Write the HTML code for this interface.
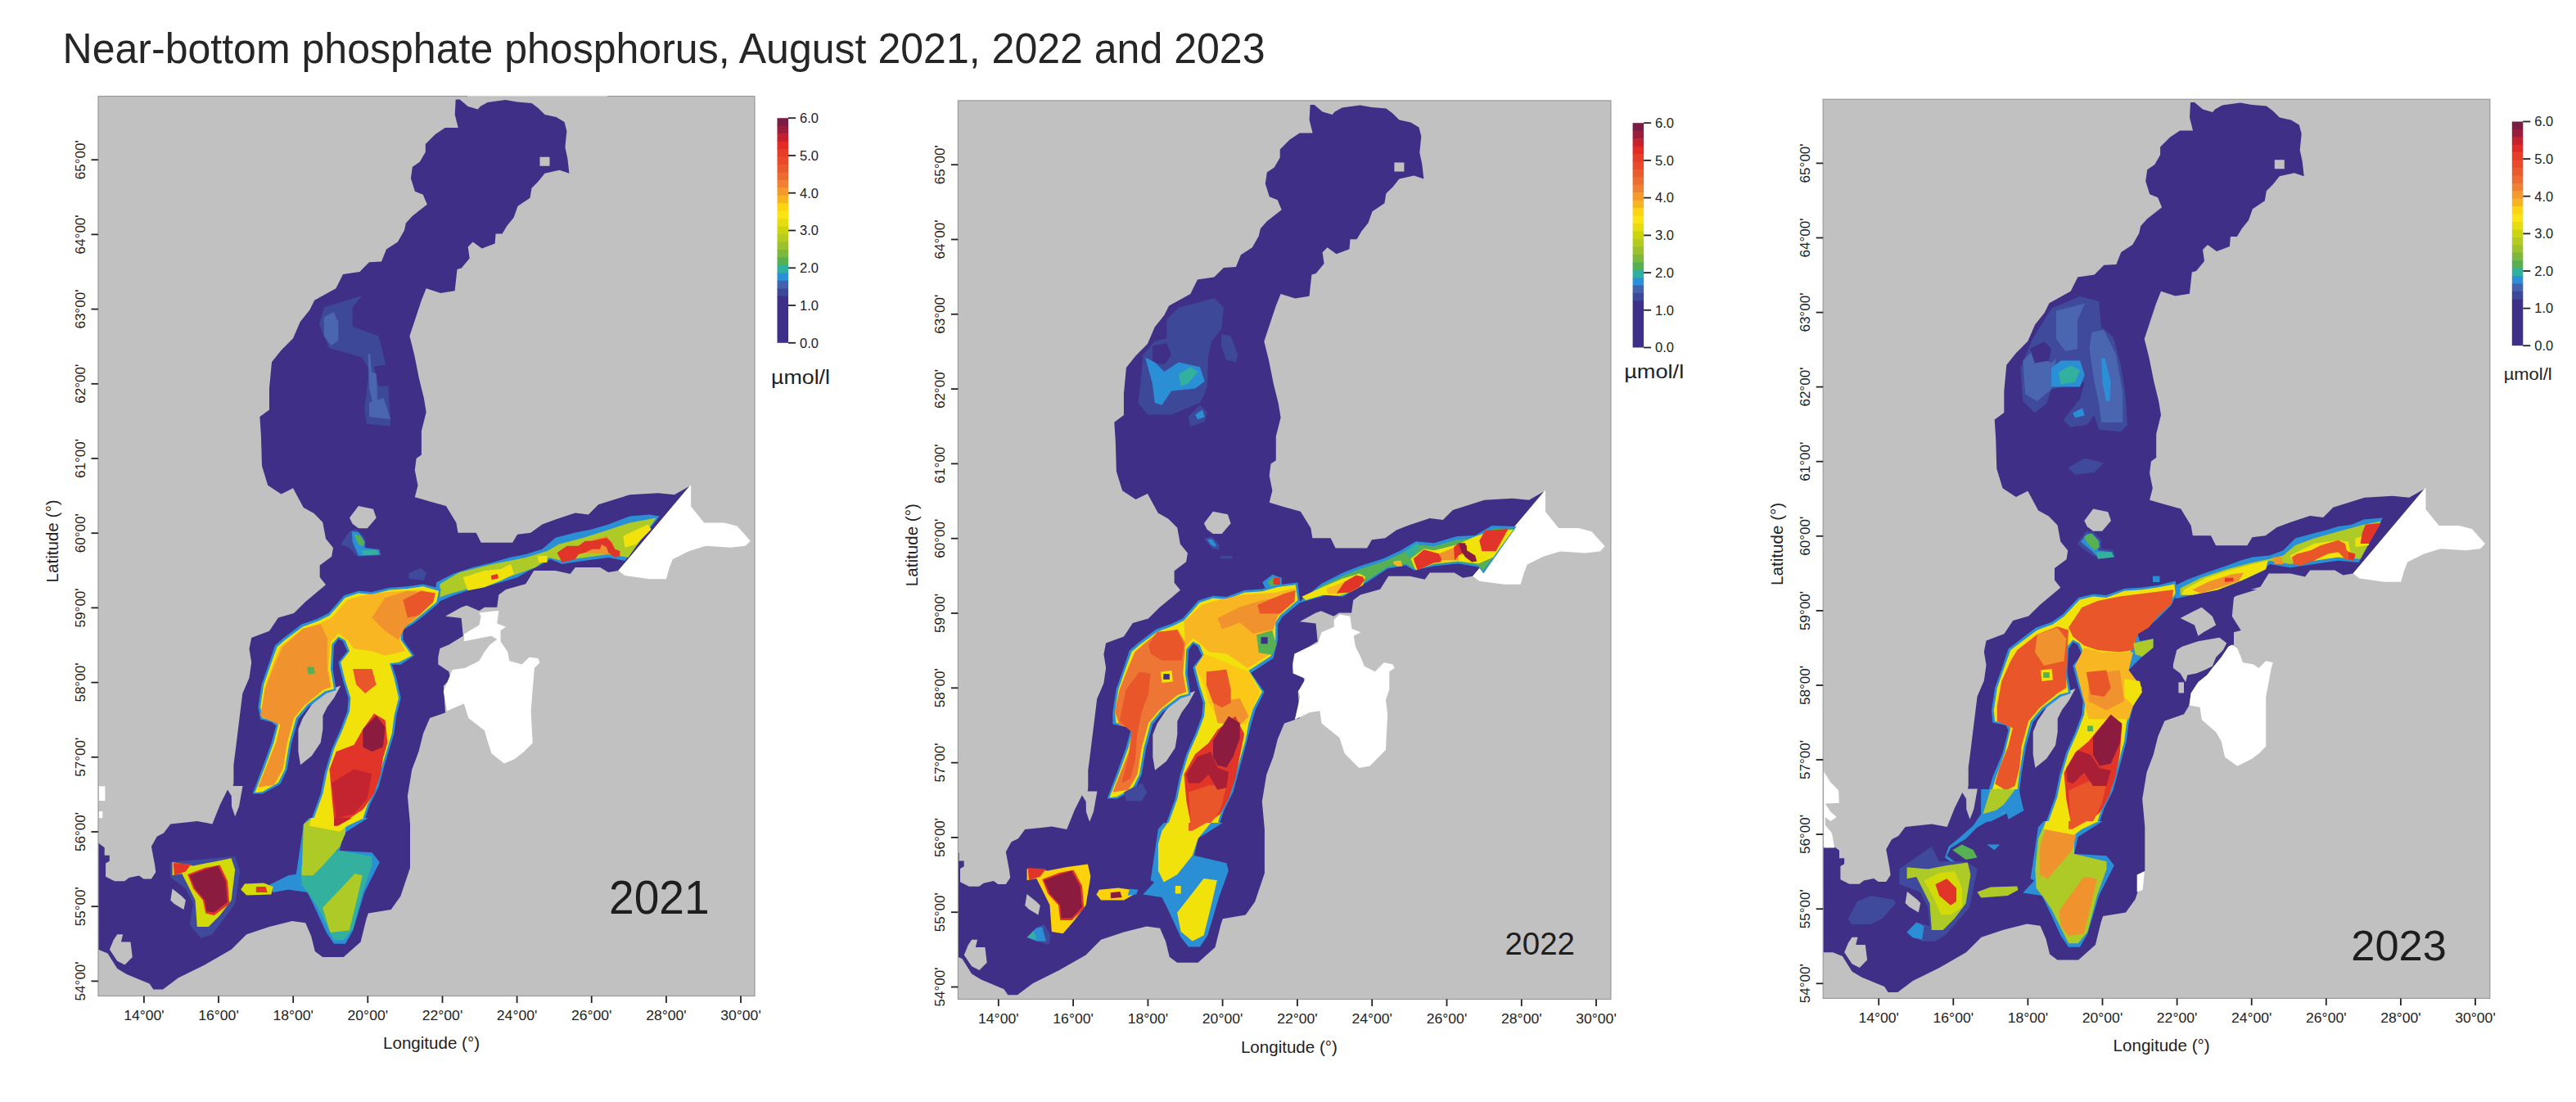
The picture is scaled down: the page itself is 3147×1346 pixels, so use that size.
<!DOCTYPE html>
<html><head><meta charset="utf-8"><style>
html,body{margin:0;padding:0;background:#fff;width:3147px;height:1346px;overflow:hidden}
svg text{font-family:"Liberation Sans",sans-serif}
</style></head><body>
<svg width="3147" height="1346" viewBox="0 0 3147 1346" style="position:absolute;left:0;top:0">
<defs>
<path id="sea" d="M556.7,121.4 561.7,121.4 571.7,130 583.7,133.5 586.7,130 595.7,125 617.6,122 631.6,124.4 649.5,126 657.5,132 665.5,140 679.5,143 689.5,149 692.4,160 690.4,180 693.4,193.8 695.4,211.8 683.5,207.8 665.5,211.8 657.5,221.8 649.5,229.7 647.5,241.7 632.6,251.7 627.6,265.7 619.6,275.6 613.6,285.6 605.6,285.6 604.6,297.6 588.7,303.6 577.7,295.6 571.7,301.6 573.7,315.5 563.7,327.5 558.5,329 555.6,355.2 538.2,358 520.7,352.3 514.9,366.8 509.1,384.2 500.4,410.4 506.2,433.6 512,462.6 517.8,485.9 520.7,503.3 514.9,526.5 514.9,555.6 508.6,560 506.8,574.5 510.5,592.7 506.8,607.2 525,612.6 544.9,618.1 557.4,638.5 559.5,650.7 581.7,650.7 587.7,662.8 626.1,662.8 632.1,652.7 648.3,650.7 662.4,640.6 678.6,634.5 702.8,626.4 718.9,628.4 731,616.3 769.4,604.2 803.7,602.2 823.9,604.2 842,594 755.3,697.1 743.2,699.1 733,693 702.8,693 696.7,701.1 678.6,697.1 652.3,697.1 642.2,713.2 618.1,720 609.3,726.5 607.2,741.8 591.9,741.8 585.4,746.1 570.1,739.6 563.6,741.8 544,752.7 563.6,754.9 565.8,776.7 548.3,787.6 537.4,791.9 535.3,802.8 535.3,811.5 548.3,820.2 550.5,829 541.8,837.7 544,870.4 525.1,877 517,896.1 511.5,917.9 503.3,939.7 497.9,972.3 501,1006.5 501,1059.9 489.3,1094.7 477.7,1111 449.9,1115.6 447.5,1122.6 440.6,1150.5 419.7,1169.1 394.1,1169.1 384.8,1162.1 380.2,1143.5 373.2,1127.2 356.9,1124.9 329,1131.9 301.2,1141.2 282.6,1159.8 250.1,1178.4 217.6,1194.6 199,1208.6 187.4,1208.6 182.7,1201.6 154.8,1190 143.2,1183 131.6,1164.4 120,1159.8 100,1159.8 100,1031 120.6,1029.9 127.7,1035.3 127.7,1044.8 133.8,1044.8 133.8,1051.7 129.1,1054.4 129.1,1070.7 140,1076.2 152.2,1076.2 157.7,1072.1 169.9,1069.4 175.4,1073.4 184.9,1073.4 190.3,1065.3 189,1055.7 184.9,1034 191.7,1021.7 200,1017.6 208.3,1006.5 240.8,1003 259.4,1006.5 268.7,983.2 278,964.6 282.7,972.3 285.4,956 285.4,934.2 288.2,912.4 290.9,890.6 293.6,868.8 296.3,847 304.5,828 307.2,809 304.5,792.6 307.2,779 329,770.8 339.9,754.5 359,749 372.6,735.4 389,721.8 398,714.2 390.7,705.1 390.7,690.6 405.2,679.7 407,668.9 398,658 394.3,638 383.5,627.1 370.8,619.9 358,596.3 343.5,603.5 327.2,592.7 320,569.1 318.9,532.4 317.4,509.1 329,500.4 329,474.3 332,442.3 343.6,427.8 358,413.3 366.8,393 378.4,378.4 384.2,366.8 410.4,352.3 419,334.9 439.4,332 451,320.3 466,319.5 472,304.6 485.9,295.6 493.9,281.6 495.9,272.6 503.9,263.7 521.8,249.7 516.8,237.7 506.9,233.7 501.9,217.8 503.9,203.8 512.8,197.8 519.8,185.8 519.8,175.9 531.8,163.9 543.8,155.9 559.7,155.9 555.7,140Z"/>
</defs>
<text x="76.5" y="76.5" font-family="Liberation Sans, sans-serif" font-size="52" fill="#262626" textLength="1469" lengthAdjust="spacingAndGlyphs">Near-bottom phosphate phosphorus, August 2021, 2022 and 2023</text>
<rect x="120" y="117.5" width="802" height="1099.0" fill="#c1c1c1"/>
<clipPath id="clip0"><rect x="120" y="117.5" width="802" height="1099.0"/></clipPath>
<g clip-path="url(#clip0)">
<g transform="translate(0,0)">
<use href="#sea" fill="#3f2f87"/>
<polygon points="427,632.6 437.9,618.1 456,621.7 459.7,632.6 448.8,645.3 437.9,645.3 430.6,639.8" fill="#c1c1c1"/>
<polygon points="416.2,837.5 408,852.5 399.8,863.4 394.4,874.3 394.4,890.6 391.7,907 380.8,923.3 367.1,934.2 364.4,917.9 364.4,890.6 369.9,877 380.8,860.7 394.4,847 405.3,841.6" fill="#c1c1c1"/>
<polygon points="282.6,960 296.5,960 292,985 287.2,997.2 283,985" fill="#c1c1c1"/>
<polygon points="210.6,1085.4 222.2,1094.7 226.9,1099.4 224.5,1111 212.9,1104 208.3,1099.4" fill="#c1c1c1"/>
<polygon points="143.2,1141.2 150.2,1141.2 147.9,1150.5 159.5,1150.5 161.8,1169.1 152.5,1178.4 143.2,1173.7 133.9,1159.8 138.6,1148.2" fill="#c1c1c1"/>
<polygon points="659.5,191.8 671.5,191.8 671.5,202.8 659.5,202.8" fill="#c1c1c1"/>
<polygon points="844.1,592.1 844.1,618.4 860.2,638.5 884.5,638.5 900.6,642.6 916.7,660.7 910.7,666.8 892.5,668.8 862.3,666.8 842.1,672.9 821.9,683 817.9,693 813.8,707.2 793.6,707.2 763.3,703.1 755.3,697.1" fill="#fff"/>
</g>
<polygon points="395.8,375.5 442.3,361.0 430.7,375.5 430.7,398.8 462.6,410.4 471.4,445.2 456.8,448.1 462.6,471.4 474.3,471.4 477.2,520.7 448.1,517.8 445.2,500.4 451.0,451.0 442.3,436.5 401.7,424.9 390.0,395.8" fill="#3e4898"/>
<polygon points="395.8,387.1 407.5,381.3 413.3,392.9 413.3,416.2 404.6,422.0 395.8,410.4" fill="#4a66b0"/>
<polygon points="451.0,491.7 468.5,485.9 477.2,512.0 451.0,509.1" fill="#4a66b0"/>
<polygon points="449.6,432.2 452.5,432.2 453.9,453.9 459.7,456.8 461.2,488.8 455.4,491.7 451.0,474.3" fill="#4a66b0"/>
<polygon points="416.1,665.2 427.0,648.9 434.3,646.2 445.1,656.2 447.0,668.9 463.3,670.7 466.0,677.9 436.1,679.7 427.0,668.9" fill="#3f4a9c"/>
<polygon points="429.7,648.9 437.9,649.8 446.0,661.6 445.1,668.9 463.3,671.6 464.2,677.9 437.9,678.8 430.6,661.6" fill="#2b8fd6"/>
<polygon points="432.4,652.5 439.7,654.3 445.1,661.6 443.3,667.0 437.9,665.2" fill="#57b153"/>
<polygon points="441.5,672.5 459.7,671.6 463.3,677.0 443.3,677.9" fill="#34b09e"/>
<polygon points="499.6,699.7 514.1,694.3 521.3,699.7 517.7,708.8 499.6,707.0" fill="#3f4a9c"/>
<polygon points="533.2,711.2 553.4,701.1 577.6,693.0 601.9,687.0 622.0,680.9 642.2,676.9 662.4,670.8 678.6,656.7 702.8,650.6 723.0,646.6 743.2,640.6 769.4,630.5 793.6,628.4 805.7,630.5 763.3,685.0 743.2,680.9 712.9,685.0 686.6,689.0 672.5,682.9 662.4,689.0 646.3,697.1 632.1,705.2 611.9,711.2 591.8,717.3 571.6,721.3 553.4,727.4 539.3,733.4 529.2,739.5" fill="#2b8fd6"/>
<polygon points="537.3,713.2 561.5,699.1 601.9,689.0 642.2,680.9 668.5,672.9 682.6,664.8 712.9,656.7 739.1,648.6 769.4,638.5 801.7,632.5 767.4,680.9 743.2,676.9 714.9,680.9 686.6,685.0 670.5,680.9 654.3,693.0 632.1,701.1 601.9,711.2 571.6,719.3 549.4,725.3 537.3,729.4" fill="#adca27"/>
<polygon points="565.5,705.2 591.8,697.1 611.9,695.1 624.1,689.0 628.1,701.1 611.9,709.2 591.8,717.3 571.6,721.3" fill="#f2e20c"/>
<polygon points="656.4,678.9 668.5,678.9 668.5,687.0 658.4,687.0" fill="#f2e20c"/>
<polygon points="761.3,654.7 791.6,640.6 795.6,646.6 777.5,664.8 763.3,668.8" fill="#f2e20c"/>
<polygon points="710.9,662.8 741.1,654.7 749.2,664.8 743.2,676.9 714.9,674.9" fill="#f0922e"/>
<polygon points="680.6,674.9 692.7,666.8 706.8,666.8 714.9,660.7 723.0,660.7 741.1,656.7 747.2,662.8 751.2,670.8 757.3,672.9 757.3,678.9 751.2,680.9 743.2,674.9 741.1,668.8 735.1,664.8 733.1,670.8 723.0,670.8 714.9,674.9 706.8,676.9 702.8,682.9 686.6,687.0" fill="#e2352a"/>
<polygon points="599.8,703.1 607.9,701.1 608.9,706.2 600.8,708.2" fill="#e2352a"/>
<polygon points="308.6,969.6 320.8,936.9 331.7,907.0 337.2,886.5 331.7,881.9 318.1,878.4 315.4,863.4 319.5,836.2 329.0,808.9 335.8,788.5 346.7,779.0 368.5,762.6 387.6,755.8 401.2,749.0 420.3,727.2 438.0,721.8 454.3,723.1 476.1,717.7 497.9,716.3 516.9,713.6 538.7,719.1 536.0,736.8 519.7,750.4 506.0,761.3 492.4,769.4 492.4,781.7 506.0,800.8 489.7,811.7 478.8,811.7 484.2,828.0 489.7,852.5 484.2,874.3 481.5,896.1 470.6,931.5 462.5,961.4 451.6,983.2 446.1,999.6 380.8,999.6 391.7,969.6 397.1,942.4 405.3,915.1 416.2,890.6 424.3,868.8 425.7,852.5 418.9,830.7 413.4,808.9 424.3,795.3 418.9,783.1 413.4,780.3 408.0,788.5 406.6,817.1 410.7,843.0 398.5,847.1 376.7,863.4 364.4,878.4 356.3,907.0 350.8,939.7 342.6,957.4 320.8,969.6" fill="#2b8fd6"/>
<polygon points="311.3,968.2 323.6,936.9 334.5,907.0 339.9,885.2 334.5,879.7 320.8,877.0 318.1,863.4 322.2,836.2 331.7,808.9 338.6,789.9 348.1,781.7 369.9,765.4 388.9,758.6 402.5,751.7 421.6,730.0 438.0,724.5 454.3,725.9 476.1,720.4 497.9,719.1 516.9,716.3 536.0,721.8 533.3,735.4 516.9,749.0 503.3,759.9 489.7,768.1 489.7,781.7 503.3,800.8 487.0,808.9 476.1,810.3 481.5,828.0 487.0,852.5 481.5,874.3 478.8,896.1 467.9,931.5 459.7,961.4 448.8,983.2 443.4,999.6 383.5,999.6 394.4,969.6 399.8,942.4 408.0,915.1 418.9,890.6 427.1,868.8 428.4,852.5 421.6,830.7 416.2,808.9 427.1,795.3 421.6,781.7 413.4,777.6 405.3,787.1 403.9,817.1 408.0,841.6 397.1,844.3 375.3,860.7 361.7,877.0 353.5,907.0 348.1,939.7 339.9,956.0 320.8,966.9" fill="#f2e20c"/>
<polygon points="315.4,961.4 326.3,934.2 337.2,907.0 342.6,885.2 326.3,878.4 320.8,863.4 324.9,836.2 334.5,808.9 342.6,789.9 369.9,768.1 391.7,761.3 405.3,754.5 424.3,732.7 443.4,727.2 473.4,723.1 514.2,720.4 531.9,724.5 529.2,735.4 511.5,751.7 495.1,765.4 487.0,779.0 495.1,795.3 470.6,800.8 454.3,795.3 432.5,792.6 424.3,781.7 413.4,773.5 403.9,784.4 401.2,817.1 405.3,838.9 394.4,843.0 372.6,860.7 359.0,877.0 350.8,907.0 345.4,939.7 334.5,958.7" fill="#f8b622"/>
<polygon points="318.1,874.3 323.6,841.6 334.5,814.4 345.4,789.9 369.9,768.1 391.7,762.6 399.8,779.0 399.8,817.1 403.9,838.9 394.4,843.0 372.6,860.7 359.0,877.0 350.8,907.0 345.4,939.7 334.5,958.7 315.4,961.4 326.3,934.2 337.2,907.0 342.6,885.2 326.3,878.4" fill="#f0922e"/>
<polygon points="454.3,754.5 470.6,730.0 497.9,721.8 530.5,724.5 525.1,738.1 508.8,754.5 495.1,765.4 487.0,781.7 470.6,770.8" fill="#f0922e"/>
<polygon points="492.4,732.7 514.2,721.8 531.9,724.5 529.2,735.4 511.5,751.7 497.9,754.5" fill="#e8562a"/>
<polygon points="375.3,814.4 383.5,814.4 384.8,822.5 376.7,823.9" fill="#57b153"/>
<polygon points="431.1,817.1 454.3,817.1 459.7,836.2 446.1,847.1 435.2,836.2" fill="#e8562a"/>
<polygon points="402.5,939.7 410.7,917.9 432.5,909.7 443.4,890.6 457.0,871.6 470.6,879.7 473.4,907.0 467.9,926.0 465.2,945.1 457.0,969.6 443.4,988.7 427.1,999.6 408.0,999.6 405.3,972.3" fill="#e2352a"/>
<polygon points="405.3,956.0 432.5,939.7 454.3,945.1 448.8,975.1 432.5,994.1 410.7,999.6" fill="#c42330"/>
<polygon points="443.4,890.6 459.7,874.3 470.6,887.9 467.9,912.4 454.3,917.9 443.4,912.4" fill="#8c1b40"/>
<polygon points="208.3,1052.9 287.2,1045.9 293.1,1064.5 287.2,1104.0 259.4,1141.2 245.4,1145.8 231.5,1129.6 236.1,1104.0 226.9,1085.4 208.3,1071.5" fill="#3f4a9c"/>
<polygon points="210.6,1052.9 236.1,1057.6 259.4,1052.9 282.6,1048.3 287.2,1062.2 282.6,1099.4 268.7,1118.0 254.7,1131.9 240.8,1131.9 238.5,1099.4 229.2,1080.8 222.2,1066.9 210.6,1069.2" fill="#d2da08"/>
<polygon points="229.2,1068.0 250.1,1059.9 268.7,1056.4 278.0,1076.1 280.3,1104.0 261.7,1118.0 251.2,1115.6 247.8,1099.4 236.1,1085.4" fill="#e2352a"/>
<polygon points="231.5,1069.2 250.1,1062.2 266.3,1057.6 275.6,1076.1 278.0,1101.7 261.7,1114.5 252.4,1113.3 250.1,1099.4 238.5,1085.4" fill="#8c1b40"/>
<polygon points="211.8,1054.1 233.8,1055.2 226.9,1064.5 212.9,1069.2" fill="#e2352a"/>
<polygon points="329.1,1080.8 352.3,1069.2 366.2,1066.9 368.5,1085.4 352.3,1086.6 333.7,1090.1" fill="#2b8fd6"/>
<polygon points="294.2,1086.6 298.9,1079.6 322.1,1078.5 333.7,1083.1 331.4,1092.4 301.2,1093.6" fill="#d2da08"/>
<polygon points="312.8,1083.1 324.4,1083.1 326.7,1090.1 312.8,1090.1" fill="#e2352a"/>
<polygon points="361.6,1069.2 370.9,1006.5 377.8,999.0 449.8,999.0 419.7,1018.1 415.0,1039.0 454.5,1041.3 463.8,1052.9 445.2,1090.1 431.3,1136.5 422.0,1152.8 408.0,1152.8 398.7,1138.9 382.5,1104.0 375.5,1090.1 352.3,1086.6 366.2,1071.5" fill="#2b8fd6"/>
<polygon points="367.4,1057.6 394.1,1043.6 415.0,1039.0 454.5,1045.9 454.5,1057.6 442.9,1090.1 431.3,1134.2 419.7,1148.2 408.0,1148.2 401.1,1134.2 387.1,1106.3 377.8,1092.4 368.5,1080.8" fill="#34b09e"/>
<polygon points="370.9,1006.5 380.2,999.5 422.0,1006.5 422.0,1018.1 415.0,1034.3 394.1,1057.6 382.5,1069.2 368.5,1069.2" fill="#adca27"/>
<polygon points="394.1,1108.7 433.6,1066.9 442.9,1069.2 433.6,1108.7 426.6,1136.5 403.4,1138.9" fill="#adca27"/>
<polygon points="380.2,999.0 445.2,999.0 424.3,1008.8 415.0,1015.7 377.8,1008.8" fill="#f2e20c"/>
<polygon points="408.0,999.0 430.1,999.0 412.7,1008.8 408.0,1008.8" fill="#c42330"/>
<polygon points="585.4,748.3 609.3,746.1 607.2,761.4 618.1,765.8 611.5,770.1 611.5,783.2 620.2,796.3 622.4,807.2 637.7,811.5 646.4,802.8 657.3,803.9 659.5,809.3 652.9,815.9 650.7,842 648.6,868.2 650.7,907.4 639.9,918.3 629,927 615.9,932.5 600.6,920.5 596.3,907.4 591.9,892.2 572.3,876.9 566.9,859.5 546.1,868.2 541.8,844.2 552.7,818.1 567.9,815.9 585.4,807.2 591.9,796.3 598.4,787.6 607.2,781 600.6,776.7 589.7,778.8 566.9,783.2 566.9,774.5 585.4,763.6 587.6,752.7" fill="#fff"/>
<polygon points="120.6,960.4 128.4,960.4 128.4,978.1 120.6,978.1" fill="#fff"/>
<polygon points="120.6,991 125.3,991 125.3,999.2 120.6,999.2" fill="#fff"/>
</g>
<rect x="120" y="117.5" width="802" height="1099.0" fill="none" stroke="#9a9a9a" stroke-width="1.2"/>
<rect x="949.5" y="144.20" width="13.5" height="10.06" fill="#7a1c44"/>
<rect x="949.5" y="153.66" width="13.5" height="10.06" fill="#9a1e3c"/>
<rect x="949.5" y="163.11" width="13.5" height="10.06" fill="#c4202e"/>
<rect x="949.5" y="172.57" width="13.5" height="10.06" fill="#e42a24"/>
<rect x="949.5" y="182.03" width="13.5" height="10.06" fill="#e63c28"/>
<rect x="949.5" y="191.48" width="13.5" height="10.06" fill="#e84a2a"/>
<rect x="949.5" y="200.94" width="13.5" height="10.06" fill="#e95a2c"/>
<rect x="949.5" y="210.40" width="13.5" height="10.06" fill="#ed6c32"/>
<rect x="949.5" y="219.85" width="13.5" height="10.06" fill="#f08034"/>
<rect x="949.5" y="229.31" width="13.5" height="10.06" fill="#f39a2c"/>
<rect x="949.5" y="238.77" width="13.5" height="10.06" fill="#f8b41e"/>
<rect x="949.5" y="248.22" width="13.5" height="10.06" fill="#fcd412"/>
<rect x="949.5" y="257.68" width="13.5" height="10.06" fill="#fae416"/>
<rect x="949.5" y="267.13" width="13.5" height="10.06" fill="#e6dc12"/>
<rect x="949.5" y="276.59" width="13.5" height="10.06" fill="#ccd40e"/>
<rect x="949.5" y="286.05" width="13.5" height="10.06" fill="#b4cc22"/>
<rect x="949.5" y="295.50" width="13.5" height="10.06" fill="#9cc02e"/>
<rect x="949.5" y="304.96" width="13.5" height="10.06" fill="#7cb83e"/>
<rect x="949.5" y="314.42" width="13.5" height="10.06" fill="#56b050"/>
<rect x="949.5" y="323.87" width="13.5" height="10.06" fill="#30b0a0"/>
<rect x="949.5" y="333.33" width="13.5" height="10.06" fill="#2a90d8"/>
<rect x="949.5" y="342.79" width="13.5" height="10.06" fill="#4262b0"/>
<rect x="949.5" y="352.24" width="13.5" height="10.06" fill="#3c4898"/>
<rect x="949.5" y="361.70" width="13.5" height="57.10" fill="#3e2f88"/>
<line x1="963.0" y1="144.2" x2="972.0" y2="144.2" stroke="#222" stroke-width="1.8"/>
<text x="977.0" y="150.0" font-family="Liberation Sans, sans-serif" font-size="16.5" fill="#222">6.0</text>
<line x1="963.0" y1="190.0" x2="972.0" y2="190.0" stroke="#222" stroke-width="1.8"/>
<text x="977.0" y="195.8" font-family="Liberation Sans, sans-serif" font-size="16.5" fill="#222">5.0</text>
<line x1="963.0" y1="235.7" x2="972.0" y2="235.7" stroke="#222" stroke-width="1.8"/>
<text x="977.0" y="241.5" font-family="Liberation Sans, sans-serif" font-size="16.5" fill="#222">4.0</text>
<line x1="963.0" y1="281.5" x2="972.0" y2="281.5" stroke="#222" stroke-width="1.8"/>
<text x="977.0" y="287.3" font-family="Liberation Sans, sans-serif" font-size="16.5" fill="#222">3.0</text>
<line x1="963.0" y1="327.3" x2="972.0" y2="327.3" stroke="#222" stroke-width="1.8"/>
<text x="977.0" y="333.1" font-family="Liberation Sans, sans-serif" font-size="16.5" fill="#222">2.0</text>
<line x1="963.0" y1="373.0" x2="972.0" y2="373.0" stroke="#222" stroke-width="1.8"/>
<text x="977.0" y="378.8" font-family="Liberation Sans, sans-serif" font-size="16.5" fill="#222">1.0</text>
<line x1="963.0" y1="418.8" x2="972.0" y2="418.8" stroke="#222" stroke-width="1.8"/>
<text x="977.0" y="424.6" font-family="Liberation Sans, sans-serif" font-size="16.5" fill="#222">0.0</text>
<text x="942" y="469" font-family="Liberation Sans, sans-serif" font-size="23" fill="#222" textLength="72" lengthAdjust="spacingAndGlyphs">µmol/l</text>
<line x1="111.5" y1="195.2" x2="120" y2="195.2" stroke="#222" stroke-width="1.8"/>
<text transform="translate(103.5,195.2) rotate(-90)" text-anchor="middle" font-family="Liberation Sans, sans-serif" font-size="17" fill="#222" textLength="48" lengthAdjust="spacingAndGlyphs">65°00'</text>
<line x1="111.5" y1="286.4" x2="120" y2="286.4" stroke="#222" stroke-width="1.8"/>
<text transform="translate(103.5,286.4) rotate(-90)" text-anchor="middle" font-family="Liberation Sans, sans-serif" font-size="17" fill="#222" textLength="48" lengthAdjust="spacingAndGlyphs">64°00'</text>
<line x1="111.5" y1="377.6" x2="120" y2="377.6" stroke="#222" stroke-width="1.8"/>
<text transform="translate(103.5,377.6) rotate(-90)" text-anchor="middle" font-family="Liberation Sans, sans-serif" font-size="17" fill="#222" textLength="48" lengthAdjust="spacingAndGlyphs">63°00'</text>
<line x1="111.5" y1="468.8" x2="120" y2="468.8" stroke="#222" stroke-width="1.8"/>
<text transform="translate(103.5,468.8) rotate(-90)" text-anchor="middle" font-family="Liberation Sans, sans-serif" font-size="17" fill="#222" textLength="48" lengthAdjust="spacingAndGlyphs">62°00'</text>
<line x1="111.5" y1="560.0" x2="120" y2="560.0" stroke="#222" stroke-width="1.8"/>
<text transform="translate(103.5,560.0) rotate(-90)" text-anchor="middle" font-family="Liberation Sans, sans-serif" font-size="17" fill="#222" textLength="48" lengthAdjust="spacingAndGlyphs">61°00'</text>
<line x1="111.5" y1="651.2" x2="120" y2="651.2" stroke="#222" stroke-width="1.8"/>
<text transform="translate(103.5,651.2) rotate(-90)" text-anchor="middle" font-family="Liberation Sans, sans-serif" font-size="17" fill="#222" textLength="48" lengthAdjust="spacingAndGlyphs">60°00'</text>
<line x1="111.5" y1="742.4" x2="120" y2="742.4" stroke="#222" stroke-width="1.8"/>
<text transform="translate(103.5,742.4) rotate(-90)" text-anchor="middle" font-family="Liberation Sans, sans-serif" font-size="17" fill="#222" textLength="48" lengthAdjust="spacingAndGlyphs">59°00'</text>
<line x1="111.5" y1="833.6" x2="120" y2="833.6" stroke="#222" stroke-width="1.8"/>
<text transform="translate(103.5,833.6) rotate(-90)" text-anchor="middle" font-family="Liberation Sans, sans-serif" font-size="17" fill="#222" textLength="48" lengthAdjust="spacingAndGlyphs">58°00'</text>
<line x1="111.5" y1="924.8" x2="120" y2="924.8" stroke="#222" stroke-width="1.8"/>
<text transform="translate(103.5,924.8) rotate(-90)" text-anchor="middle" font-family="Liberation Sans, sans-serif" font-size="17" fill="#222" textLength="48" lengthAdjust="spacingAndGlyphs">57°00'</text>
<line x1="111.5" y1="1016.0" x2="120" y2="1016.0" stroke="#222" stroke-width="1.8"/>
<text transform="translate(103.5,1016.0) rotate(-90)" text-anchor="middle" font-family="Liberation Sans, sans-serif" font-size="17" fill="#222" textLength="48" lengthAdjust="spacingAndGlyphs">56°00'</text>
<line x1="111.5" y1="1107.2" x2="120" y2="1107.2" stroke="#222" stroke-width="1.8"/>
<text transform="translate(103.5,1107.2) rotate(-90)" text-anchor="middle" font-family="Liberation Sans, sans-serif" font-size="17" fill="#222" textLength="48" lengthAdjust="spacingAndGlyphs">55°00'</text>
<line x1="111.5" y1="1198.4" x2="120" y2="1198.4" stroke="#222" stroke-width="1.8"/>
<text transform="translate(103.5,1198.4) rotate(-90)" text-anchor="middle" font-family="Liberation Sans, sans-serif" font-size="17" fill="#222" textLength="48" lengthAdjust="spacingAndGlyphs">54°00'</text>
<line x1="175.9" y1="1216.5" x2="175.9" y2="1225.0" stroke="#222" stroke-width="1.8"/>
<text x="175.9" y="1245.8" text-anchor="middle" font-family="Liberation Sans, sans-serif" font-size="17" fill="#222" textLength="49.5" lengthAdjust="spacingAndGlyphs">14°00'</text>
<line x1="267.0" y1="1216.5" x2="267.0" y2="1225.0" stroke="#222" stroke-width="1.8"/>
<text x="267.0" y="1245.8" text-anchor="middle" font-family="Liberation Sans, sans-serif" font-size="17" fill="#222" textLength="49.5" lengthAdjust="spacingAndGlyphs">16°00'</text>
<line x1="358.2" y1="1216.5" x2="358.2" y2="1225.0" stroke="#222" stroke-width="1.8"/>
<text x="358.2" y="1245.8" text-anchor="middle" font-family="Liberation Sans, sans-serif" font-size="17" fill="#222" textLength="49.5" lengthAdjust="spacingAndGlyphs">18°00'</text>
<line x1="449.3" y1="1216.5" x2="449.3" y2="1225.0" stroke="#222" stroke-width="1.8"/>
<text x="449.3" y="1245.8" text-anchor="middle" font-family="Liberation Sans, sans-serif" font-size="17" fill="#222" textLength="49.5" lengthAdjust="spacingAndGlyphs">20°00'</text>
<line x1="540.5" y1="1216.5" x2="540.5" y2="1225.0" stroke="#222" stroke-width="1.8"/>
<text x="540.5" y="1245.8" text-anchor="middle" font-family="Liberation Sans, sans-serif" font-size="17" fill="#222" textLength="49.5" lengthAdjust="spacingAndGlyphs">22°00'</text>
<line x1="631.6" y1="1216.5" x2="631.6" y2="1225.0" stroke="#222" stroke-width="1.8"/>
<text x="631.6" y="1245.8" text-anchor="middle" font-family="Liberation Sans, sans-serif" font-size="17" fill="#222" textLength="49.5" lengthAdjust="spacingAndGlyphs">24°00'</text>
<line x1="722.7" y1="1216.5" x2="722.7" y2="1225.0" stroke="#222" stroke-width="1.8"/>
<text x="722.7" y="1245.8" text-anchor="middle" font-family="Liberation Sans, sans-serif" font-size="17" fill="#222" textLength="49.5" lengthAdjust="spacingAndGlyphs">26°00'</text>
<line x1="813.9" y1="1216.5" x2="813.9" y2="1225.0" stroke="#222" stroke-width="1.8"/>
<text x="813.9" y="1245.8" text-anchor="middle" font-family="Liberation Sans, sans-serif" font-size="17" fill="#222" textLength="49.5" lengthAdjust="spacingAndGlyphs">28°00'</text>
<line x1="905.0" y1="1216.5" x2="905.0" y2="1225.0" stroke="#222" stroke-width="1.8"/>
<text x="905.0" y="1245.8" text-anchor="middle" font-family="Liberation Sans, sans-serif" font-size="17" fill="#222" textLength="49.5" lengthAdjust="spacingAndGlyphs">30°00'</text>
<text x="468" y="1280.6" font-family="Liberation Sans, sans-serif" font-size="20.5" fill="#222" textLength="118" lengthAdjust="spacingAndGlyphs">Longitude (°)</text>
<text transform="translate(70.5,661.0) rotate(-90)" text-anchor="middle" font-family="Liberation Sans, sans-serif" font-size="20.5" fill="#222" textLength="101" lengthAdjust="spacingAndGlyphs">Latitude (°)</text>
<text x="744" y="1116" font-family="Liberation Sans, sans-serif" font-size="57" fill="#1e1e1e" textLength="122.6" lengthAdjust="spacingAndGlyphs">2021</text>
<rect x="1170.4" y="122.9" width="797.5" height="1097.6" fill="#c1c1c1"/>
<clipPath id="clip1"><rect x="1170.4" y="122.9" width="797.5" height="1097.6"/></clipPath>
<g clip-path="url(#clip1)">
<g transform="translate(1043.9,6.6)">
<use href="#sea" fill="#3f2f87"/>
<polygon points="427,632.6 437.9,618.1 456,621.7 459.7,632.6 448.8,645.3 437.9,645.3 430.6,639.8" fill="#c1c1c1"/>
<polygon points="416.2,837.5 408,852.5 399.8,863.4 394.4,874.3 394.4,890.6 391.7,907 380.8,923.3 367.1,934.2 364.4,917.9 364.4,890.6 369.9,877 380.8,860.7 394.4,847 405.3,841.6" fill="#c1c1c1"/>
<polygon points="282.6,960 296.5,960 292,985 287.2,997.2 283,985" fill="#c1c1c1"/>
<polygon points="210.6,1085.4 222.2,1094.7 226.9,1099.4 224.5,1111 212.9,1104 208.3,1099.4" fill="#c1c1c1"/>
<polygon points="143.2,1141.2 150.2,1141.2 147.9,1150.5 159.5,1150.5 161.8,1169.1 152.5,1178.4 143.2,1173.7 133.9,1159.8 138.6,1148.2" fill="#c1c1c1"/>
<polygon points="659.5,191.8 671.5,191.8 671.5,202.8 659.5,202.8" fill="#c1c1c1"/>
<polygon points="844.1,592.1 844.1,618.4 860.2,638.5 884.5,638.5 900.6,642.6 916.7,660.7 910.7,666.8 892.5,668.8 862.3,666.8 842.1,672.9 821.9,683 817.9,693 813.8,707.2 793.6,707.2 763.3,703.1 755.3,697.1" fill="#fff"/>
</g>
<polygon points="1425.3,390.2 1439.8,375.7 1483.4,364.1 1495.0,375.7 1492.1,401.8 1480.5,416.4 1476.2,433.8 1474.7,471.6 1471.8,480.3 1466.0,491.9 1431.1,506.4 1402.1,506.4 1390.5,491.9 1393.4,468.6 1396.3,433.8 1410.8,416.4 1425.3,413.5" fill="#3e4898"/>
<polygon points="1492.1,407.7 1503.7,410.6 1512.5,433.8 1509.6,442.5 1497.9,439.6 1492.1,422.2" fill="#3e4898"/>
<polygon points="1451.5,509.3 1466.0,494.8 1474.7,503.5 1471.8,515.1 1454.4,520.9" fill="#3e4898"/>
<polygon points="1407.9,422.2 1425.3,419.3 1431.1,433.8 1422.4,445.4 1407.9,442.5" fill="#3f2f87"/>
<polygon points="1399.2,436.7 1410.8,442.5 1422.4,454.1 1439.8,442.5 1466.0,448.3 1471.8,465.7 1460.2,474.5 1431.1,477.4 1419.5,494.8 1410.8,491.9 1407.9,468.6" fill="#2b8fd6"/>
<polygon points="1439.8,457.0 1454.4,448.3 1463.1,454.1 1451.5,468.6 1442.8,471.6" fill="#34b09e"/>
<polygon points="1460.2,506.4 1468.9,500.6 1471.8,509.3 1463.1,512.2" fill="#2b8fd6"/>
<polygon points="1470.7,657.7 1480.9,655.7 1490.1,665.9 1489.1,672.1 1480.9,670.0" fill="#3f4a9c"/>
<polygon points="1474.8,658.8 1480.9,658.8 1486.0,665.9 1484.0,668.0 1478.9,664.9" fill="#2b8fd6"/>
<polygon points="1491.1,679.2 1505.5,679.2 1505.5,682.3 1491.1,682.3" fill="#3f4a9c"/>
<polygon points="1542.3,710.9 1554.6,701.7 1565.8,705.8 1565.8,720.1 1554.6,722.2 1545.4,718.1" fill="#2b8fd6"/>
<polygon points="1548.4,710.9 1555.6,704.8 1562.7,707.9 1562.7,718.1 1554.6,719.1" fill="#57b153"/>
<polygon points="1555.6,705.8 1563.8,705.8 1563.8,714.0 1555.6,714.0" fill="#e2352a"/>
<polygon points="1585.2,736.9 1614.5,712.7 1640.7,699.5 1660.9,691.5 1689.2,682.4 1711.4,672.3 1729.6,661.2 1751.8,663.2 1780.0,655.1 1802.2,654.1 1822.4,642.0 1852.7,643.0 1812.3,700.6 1806.3,692.5 1782.0,688.4 1751.8,691.5 1727.5,696.5 1717.4,690.5 1695.2,694.5 1671.0,710.6 1640.7,728.8 1620.6,726.8" fill="#2b8fd6"/>
<polygon points="1589.3,732.9 1616.5,714.7 1642.8,702.6 1662.9,694.5 1691.2,685.4 1713.4,675.3 1731.6,665.2 1751.8,667.3 1780.0,659.2 1802.2,657.2 1824.4,646.1 1850.7,646.1 1811.3,697.5 1806.3,690.5 1782.0,686.4 1751.8,689.5 1727.5,694.5 1717.4,688.4 1695.2,692.5 1671.0,708.6 1640.7,726.8 1620.6,724.8" fill="#57b153"/>
<polygon points="1717.4,673.3 1731.6,662.2 1733.6,669.3 1725.5,678.4 1719.5,680.4" fill="#34b09e"/>
<polygon points="1590.3,728.8 1616.5,716.7 1640.7,706.6 1660.9,700.6 1668.0,704.6 1665.0,714.7 1650.8,722.8 1636.7,727.8 1616.5,726.8 1595.3,732.9" fill="#f2e20c"/>
<polygon points="1620.6,718.7 1642.8,710.6 1632.7,724.8 1622.6,725.8" fill="#f8b622"/>
<polygon points="1642.8,710.6 1656.9,702.6 1665.0,704.6 1667.0,708.6 1660.9,716.7 1648.8,723.8 1632.7,724.8" fill="#e2352a"/>
<polygon points="1723.5,682.4 1739.7,670.3 1751.8,672.3 1780.0,665.2 1800.2,656.1 1822.4,648.1 1848.7,647.1 1824.4,680.4 1806.3,688.4 1782.0,685.4 1751.8,688.4 1729.6,696.5" fill="#f2e20c"/>
<polygon points="1814.3,648.1 1842.6,646.1 1827.5,673.3 1810.3,673.3 1807.3,660.2" fill="#e2352a"/>
<polygon points="1726.5,682.4 1739.7,671.3 1757.8,676.3 1761.9,682.4 1759.8,686.4 1751.8,687.4 1731.6,696.5" fill="#e2352a"/>
<polygon points="1757.8,676.3 1778.0,668.3 1782.0,684.4 1761.9,684.4" fill="#f0922e"/>
<polygon points="1776.0,668.3 1782.0,663.2 1792.1,666.2 1792.1,673.3 1782.0,678.4 1777.0,684.4" fill="#e2352a"/>
<polygon points="1782.0,663.2 1790.1,663.2 1792.1,672.3 1802.2,678.4 1804.2,685.4 1798.2,686.4 1790.1,680.4 1785.1,673.3" fill="#8c1b40"/>
<polygon points="1702.3,685.4 1711.4,684.4 1713.4,691.5 1707.4,692.0 1702.3,688.4" fill="#f8b622"/>
<polygon points="1352.6,975.6 1364.8,942.9 1375.7,913.0 1381.2,892.5 1375.7,887.9 1359.4,884.4 1359.4,869.4 1363.5,842.2 1373.0,814.9 1379.8,794.5 1390.7,785.0 1412.5,768.6 1431.6,761.8 1445.2,755.0 1464.3,733.2 1482.0,727.8 1498.3,729.1 1520.1,721.0 1541.9,719.6 1560.9,714.2 1585.4,711.4 1588.2,736.0 1566.4,753.7 1560.9,763.2 1560.9,782.3 1555.5,804.0 1528.2,821.7 1544.6,844.9 1533.7,866.7 1528.2,885.7 1522.8,907.5 1514.6,937.5 1506.5,967.4 1495.6,989.2 1490.1,1005.6 1424.8,1005.6 1435.7,975.6 1441.1,948.4 1449.3,921.1 1460.2,896.6 1468.3,874.8 1469.7,858.5 1462.9,836.7 1457.4,814.9 1468.3,801.3 1462.9,789.1 1457.4,786.3 1452.0,794.5 1450.6,823.1 1454.7,849.0 1442.5,853.1 1420.7,869.4 1408.4,884.4 1400.3,913.0 1394.8,945.7 1386.6,963.4 1364.8,975.6" fill="#2b8fd6"/>
<polygon points="1355.3,974.2 1367.6,942.9 1378.5,913.0 1383.9,891.2 1378.5,885.7 1363.5,883.0 1362.1,869.4 1366.2,842.2 1375.7,814.9 1382.6,795.9 1392.1,787.7 1413.9,771.4 1432.9,764.6 1446.5,757.7 1465.6,736.0 1482.0,730.5 1498.3,731.9 1520.1,723.7 1541.9,722.3 1560.9,716.9 1582.7,714.2 1585.4,733.2 1563.7,751.8 1558.2,760.5 1558.2,782.3 1552.8,801.3 1525.5,819.0 1541.9,844.9 1531.0,865.3 1525.5,883.0 1521.4,904.8 1511.9,937.5 1503.7,967.4 1492.8,989.2 1487.4,1005.6 1427.5,1005.6 1438.4,975.6 1443.8,948.4 1452.0,921.1 1462.9,896.6 1471.1,874.8 1472.4,858.5 1465.6,836.7 1460.2,814.9 1471.1,801.3 1465.6,787.7 1457.4,783.6 1449.3,793.1 1447.9,823.1 1452.0,847.6 1441.1,850.3 1419.3,866.7 1405.7,883.0 1397.5,913.0 1392.1,945.7 1383.9,962.0 1364.8,972.9" fill="#f2e20c"/>
<polygon points="1446.5,759.1 1468.3,738.7 1487.4,733.2 1517.4,726.4 1558.2,723.7 1581.4,718.3 1582.7,733.2 1562.3,750.9 1555.5,760.5 1555.5,782.3 1550.0,800.0 1524.2,816.3 1514.6,809.5 1498.3,798.6 1476.5,795.9 1468.3,787.7 1457.4,779.5 1447.9,790.4" fill="#f8b622"/>
<polygon points="1359.4,967.4 1370.3,940.2 1381.2,913.0 1386.6,891.2 1367.6,885.7 1362.1,869.4 1367.6,842.2 1378.5,814.9 1386.6,795.9 1413.9,772.7 1438.4,768.6 1447.9,785.0 1445.2,823.1 1449.3,844.9 1438.4,849.0 1416.6,866.7 1403.0,883.0 1394.8,913.0 1389.4,945.7 1378.5,964.7" fill="#ee7634"/>
<polygon points="1403.0,787.7 1413.9,771.4 1438.4,770.0 1446.5,787.7 1443.8,806.8 1419.3,806.8 1405.7,798.6" fill="#e8562a"/>
<polygon points="1367.6,880.3 1375.7,842.2 1392.1,820.4 1405.7,823.1 1403.0,847.6 1394.8,869.4 1389.4,896.6 1386.6,929.3 1381.2,951.1 1370.3,956.5 1378.5,923.9 1382.6,893.9 1373.0,885.7" fill="#e8562a"/>
<polygon points="1487.4,755.0 1514.6,741.4 1541.9,733.2 1569.1,727.8 1577.3,736.0 1560.9,752.3 1555.5,768.6 1531.0,774.1 1514.6,760.5 1492.8,768.6" fill="#f0922e"/>
<polygon points="1536.4,738.7 1569.1,725.1 1582.7,721.0 1581.4,734.6 1563.7,749.6 1539.1,749.6" fill="#e8562a"/>
<polygon points="1471.1,798.6 1525.5,820.4 1539.1,844.9 1528.2,869.4 1522.8,885.7 1490.1,883.0 1476.5,858.5 1471.1,836.7 1460.2,814.9" fill="#fbc818"/>
<polygon points="1482.0,858.5 1514.6,853.1 1525.5,874.8 1514.6,885.7 1487.4,883.0" fill="#f0922e"/>
<polygon points="1535.1,775.4 1554.1,770.0 1559.6,787.7 1554.1,800.0 1537.8,797.2" fill="#57b153"/>
<polygon points="1540.5,778.2 1548.7,778.2 1548.7,786.3 1540.5,786.3" fill="#3f2f87"/>
<polygon points="1418.0,820.4 1431.6,819.0 1432.9,832.6 1419.3,834.0" fill="#f2e20c"/>
<polygon points="1421.2,823.1 1428.8,823.1 1428.8,829.9 1421.2,829.9" fill="#3f2f87"/>
<polygon points="1473.8,820.4 1498.3,817.7 1503.7,842.2 1503.7,858.5 1492.8,864.0 1482.0,858.5 1473.8,836.7" fill="#e8562a"/>
<polygon points="1446.5,945.7 1460.2,921.1 1476.5,907.5 1487.4,891.2 1509.2,874.8 1520.1,896.6 1514.6,923.9 1509.2,951.1 1501.0,975.6 1490.1,994.7 1476.5,1005.6 1454.7,1005.6 1449.3,978.3" fill="#e2352a"/>
<polygon points="1452.0,967.4 1476.5,959.3 1498.3,959.3 1492.8,983.8 1482.0,1005.6 1454.7,1005.6" fill="#e8562a"/>
<polygon points="1449.3,945.7 1462.9,923.9 1479.2,918.4 1487.4,937.5 1501.0,942.9 1498.3,962.0 1487.4,964.7 1476.5,945.7 1465.6,956.5 1452.0,956.5" fill="#a81f36"/>
<polygon points="1482.0,904.8 1501.0,874.8 1514.6,883.0 1514.6,902.1 1506.5,923.9 1498.3,937.5 1487.4,934.8 1482.0,923.9" fill="#8c1b40"/>
<polygon points="1373.0,967.4 1394.8,956.5 1401.6,967.4 1394.8,978.3 1375.7,978.3" fill="#3f4a9c"/>
<polygon points="1254.6,1061.2 1280.1,1063.6 1303.4,1058.9 1328.9,1055.4 1332.4,1070.5 1326.6,1105.4 1312.7,1124.0 1298.7,1140.2 1284.8,1137.9 1282.5,1105.4 1273.2,1086.8 1266.2,1072.9 1254.6,1075.2" fill="#fcd20c"/>
<polygon points="1273.2,1074.0 1294.1,1065.9 1311.5,1062.4 1322.0,1082.1 1324.3,1110.0 1309.2,1124.0 1295.2,1124.0 1292.9,1105.4 1280.1,1091.4" fill="#e2352a"/>
<polygon points="1275.5,1075.2 1294.1,1068.2 1309.2,1063.6 1319.6,1082.1 1322.0,1107.7 1309.2,1121.6 1296.4,1121.6 1295.2,1105.4 1282.5,1091.4" fill="#8c1b40"/>
<polygon points="1255.8,1060.1 1277.8,1061.2 1270.9,1070.5 1256.9,1075.2" fill="#e2352a"/>
<polygon points="1339.4,1092.6 1342.9,1086.8 1366.1,1084.5 1382.4,1086.8 1389.3,1088.0 1387.0,1091.4 1373.1,1099.6 1345.2,1099.6" fill="#fcd20c"/>
<polygon points="1380.0,1085.6 1390.5,1086.8 1388.2,1092.6 1377.7,1093.8" fill="#2b8fd6"/>
<polygon points="1356.8,1090.3 1368.4,1089.1 1370.7,1096.1 1356.8,1097.2" fill="#8c1b40"/>
<polygon points="1254.6,1144.9 1266.2,1133.2 1275.5,1128.6 1283.6,1142.5 1281.3,1154.2 1266.2,1149.5" fill="#3f4a9c"/>
<polygon points="1254.6,1144.9 1266.2,1133.2 1273.2,1132.1 1277.8,1149.5 1266.2,1149.5" fill="#2b8fd6"/>
<polygon points="1254.6,1144.9 1262.7,1136.7 1266.2,1147.2" fill="#34b09e"/>
<polygon points="1405.6,1075.2 1414.9,1012.5 1421.8,1005.0 1493.8,1005.0 1463.7,1024.1 1459.0,1045.0 1498.5,1054.3 1500.8,1063.6 1489.2,1096.1 1475.3,1142.5 1466.0,1156.5 1452.0,1156.5 1442.7,1144.9 1426.5,1110.0 1419.5,1096.1 1396.3,1092.6 1410.2,1077.5" fill="#2b8fd6"/>
<polygon points="1419.5,1014.8 1426.5,1005.0 1489.2,1005.0 1484.6,998.5 1463.7,1024.1 1456.7,1045.0 1438.1,1068.2 1421.8,1077.5 1414.9,1063.6 1414.9,1031.0" fill="#f2e20c"/>
<polygon points="1452.0,1005.0 1474.1,1005.0 1456.7,1014.8 1452.0,1014.8" fill="#e8562a"/>
<polygon points="1438.1,1114.7 1470.6,1072.9 1486.9,1075.2 1477.6,1114.7 1470.6,1142.5 1456.7,1149.5 1442.7,1137.9" fill="#f2e20c"/>
<polygon points="1435.8,1082.1 1442.7,1082.1 1442.7,1091.4 1435.8,1091.4" fill="#f2e20c"/>
<polygon points="1629.7,757 1636.3,750.5 1649.3,752.7 1651.5,767.9 1662.4,772.3 1653.7,776.7 1655.9,789.7 1662.4,802.8 1666.8,813.7 1679.9,820.2 1690.7,809.3 1701.6,811.5 1703.8,815.9 1697.3,820.2 1697.3,842 1692.9,855.1 1695.1,872.5 1692.9,916.1 1673.3,935.7 1660.2,937.9 1642.8,920.5 1636.3,900.9 1614.5,883.4 1612.3,868.2 1599.2,870.4 1581.8,879.1 1588.3,850.7 1586.1,844.2 1594.9,829 1579.6,822.4 1579.6,811.5 1581.8,798.4 1594.9,791.9 1610.1,785.4 1614.5,772.3 1629.7,765.8" fill="#fff"/>
</g>
<rect x="1170.4" y="122.9" width="797.5" height="1097.6" fill="none" stroke="#9a9a9a" stroke-width="1.2"/>
<rect x="1994.6" y="150.20" width="13.5" height="10.05" fill="#7a1c44"/>
<rect x="1994.6" y="159.65" width="13.5" height="10.05" fill="#9a1e3c"/>
<rect x="1994.6" y="169.09" width="13.5" height="10.05" fill="#c4202e"/>
<rect x="1994.6" y="178.54" width="13.5" height="10.05" fill="#e42a24"/>
<rect x="1994.6" y="187.98" width="13.5" height="10.05" fill="#e63c28"/>
<rect x="1994.6" y="197.43" width="13.5" height="10.05" fill="#e84a2a"/>
<rect x="1994.6" y="206.88" width="13.5" height="10.05" fill="#e95a2c"/>
<rect x="1994.6" y="216.32" width="13.5" height="10.05" fill="#ed6c32"/>
<rect x="1994.6" y="225.77" width="13.5" height="10.05" fill="#f08034"/>
<rect x="1994.6" y="235.22" width="13.5" height="10.05" fill="#f39a2c"/>
<rect x="1994.6" y="244.66" width="13.5" height="10.05" fill="#f8b41e"/>
<rect x="1994.6" y="254.11" width="13.5" height="10.05" fill="#fcd412"/>
<rect x="1994.6" y="263.55" width="13.5" height="10.05" fill="#fae416"/>
<rect x="1994.6" y="273.00" width="13.5" height="10.05" fill="#e6dc12"/>
<rect x="1994.6" y="282.45" width="13.5" height="10.05" fill="#ccd40e"/>
<rect x="1994.6" y="291.89" width="13.5" height="10.05" fill="#b4cc22"/>
<rect x="1994.6" y="301.34" width="13.5" height="10.05" fill="#9cc02e"/>
<rect x="1994.6" y="310.79" width="13.5" height="10.05" fill="#7cb83e"/>
<rect x="1994.6" y="320.23" width="13.5" height="10.05" fill="#56b050"/>
<rect x="1994.6" y="329.68" width="13.5" height="10.05" fill="#30b0a0"/>
<rect x="1994.6" y="339.12" width="13.5" height="10.05" fill="#2a90d8"/>
<rect x="1994.6" y="348.57" width="13.5" height="10.05" fill="#4262b0"/>
<rect x="1994.6" y="358.02" width="13.5" height="10.05" fill="#3c4898"/>
<rect x="1994.6" y="367.46" width="13.5" height="57.04" fill="#3e2f88"/>
<line x1="2008.1" y1="150.2" x2="2017.1" y2="150.2" stroke="#222" stroke-width="1.8"/>
<text x="2022.1" y="156.0" font-family="Liberation Sans, sans-serif" font-size="16.5" fill="#222">6.0</text>
<line x1="2008.1" y1="195.9" x2="2017.1" y2="195.9" stroke="#222" stroke-width="1.8"/>
<text x="2022.1" y="201.7" font-family="Liberation Sans, sans-serif" font-size="16.5" fill="#222">5.0</text>
<line x1="2008.1" y1="241.6" x2="2017.1" y2="241.6" stroke="#222" stroke-width="1.8"/>
<text x="2022.1" y="247.4" font-family="Liberation Sans, sans-serif" font-size="16.5" fill="#222">4.0</text>
<line x1="2008.1" y1="287.4" x2="2017.1" y2="287.4" stroke="#222" stroke-width="1.8"/>
<text x="2022.1" y="293.2" font-family="Liberation Sans, sans-serif" font-size="16.5" fill="#222">3.0</text>
<line x1="2008.1" y1="333.1" x2="2017.1" y2="333.1" stroke="#222" stroke-width="1.8"/>
<text x="2022.1" y="338.9" font-family="Liberation Sans, sans-serif" font-size="16.5" fill="#222">2.0</text>
<line x1="2008.1" y1="378.8" x2="2017.1" y2="378.8" stroke="#222" stroke-width="1.8"/>
<text x="2022.1" y="384.6" font-family="Liberation Sans, sans-serif" font-size="16.5" fill="#222">1.0</text>
<line x1="2008.1" y1="424.5" x2="2017.1" y2="424.5" stroke="#222" stroke-width="1.8"/>
<text x="2022.1" y="430.3" font-family="Liberation Sans, sans-serif" font-size="16.5" fill="#222">0.0</text>
<text x="1984.2" y="461.7" font-family="Liberation Sans, sans-serif" font-size="24" fill="#222" textLength="73" lengthAdjust="spacingAndGlyphs">µmol/l</text>
<line x1="1161.9" y1="201.2" x2="1170.4" y2="201.2" stroke="#222" stroke-width="1.8"/>
<text transform="translate(1153.9,201.2) rotate(-90)" text-anchor="middle" font-family="Liberation Sans, sans-serif" font-size="17" fill="#222" textLength="48" lengthAdjust="spacingAndGlyphs">65°00'</text>
<line x1="1161.9" y1="292.5" x2="1170.4" y2="292.5" stroke="#222" stroke-width="1.8"/>
<text transform="translate(1153.9,292.5) rotate(-90)" text-anchor="middle" font-family="Liberation Sans, sans-serif" font-size="17" fill="#222" textLength="48" lengthAdjust="spacingAndGlyphs">64°00'</text>
<line x1="1161.9" y1="383.8" x2="1170.4" y2="383.8" stroke="#222" stroke-width="1.8"/>
<text transform="translate(1153.9,383.8) rotate(-90)" text-anchor="middle" font-family="Liberation Sans, sans-serif" font-size="17" fill="#222" textLength="48" lengthAdjust="spacingAndGlyphs">63°00'</text>
<line x1="1161.9" y1="475.1" x2="1170.4" y2="475.1" stroke="#222" stroke-width="1.8"/>
<text transform="translate(1153.9,475.1) rotate(-90)" text-anchor="middle" font-family="Liberation Sans, sans-serif" font-size="17" fill="#222" textLength="48" lengthAdjust="spacingAndGlyphs">62°00'</text>
<line x1="1161.9" y1="566.4" x2="1170.4" y2="566.4" stroke="#222" stroke-width="1.8"/>
<text transform="translate(1153.9,566.4) rotate(-90)" text-anchor="middle" font-family="Liberation Sans, sans-serif" font-size="17" fill="#222" textLength="48" lengthAdjust="spacingAndGlyphs">61°00'</text>
<line x1="1161.9" y1="657.7" x2="1170.4" y2="657.7" stroke="#222" stroke-width="1.8"/>
<text transform="translate(1153.9,657.7) rotate(-90)" text-anchor="middle" font-family="Liberation Sans, sans-serif" font-size="17" fill="#222" textLength="48" lengthAdjust="spacingAndGlyphs">60°00'</text>
<line x1="1161.9" y1="749.0" x2="1170.4" y2="749.0" stroke="#222" stroke-width="1.8"/>
<text transform="translate(1153.9,749.0) rotate(-90)" text-anchor="middle" font-family="Liberation Sans, sans-serif" font-size="17" fill="#222" textLength="48" lengthAdjust="spacingAndGlyphs">59°00'</text>
<line x1="1161.9" y1="840.3" x2="1170.4" y2="840.3" stroke="#222" stroke-width="1.8"/>
<text transform="translate(1153.9,840.3) rotate(-90)" text-anchor="middle" font-family="Liberation Sans, sans-serif" font-size="17" fill="#222" textLength="48" lengthAdjust="spacingAndGlyphs">58°00'</text>
<line x1="1161.9" y1="931.6" x2="1170.4" y2="931.6" stroke="#222" stroke-width="1.8"/>
<text transform="translate(1153.9,931.6) rotate(-90)" text-anchor="middle" font-family="Liberation Sans, sans-serif" font-size="17" fill="#222" textLength="48" lengthAdjust="spacingAndGlyphs">57°00'</text>
<line x1="1161.9" y1="1022.9" x2="1170.4" y2="1022.9" stroke="#222" stroke-width="1.8"/>
<text transform="translate(1153.9,1022.9) rotate(-90)" text-anchor="middle" font-family="Liberation Sans, sans-serif" font-size="17" fill="#222" textLength="48" lengthAdjust="spacingAndGlyphs">56°00'</text>
<line x1="1161.9" y1="1114.2" x2="1170.4" y2="1114.2" stroke="#222" stroke-width="1.8"/>
<text transform="translate(1153.9,1114.2) rotate(-90)" text-anchor="middle" font-family="Liberation Sans, sans-serif" font-size="17" fill="#222" textLength="48" lengthAdjust="spacingAndGlyphs">55°00'</text>
<line x1="1161.9" y1="1205.5" x2="1170.4" y2="1205.5" stroke="#222" stroke-width="1.8"/>
<text transform="translate(1153.9,1205.5) rotate(-90)" text-anchor="middle" font-family="Liberation Sans, sans-serif" font-size="17" fill="#222" textLength="48" lengthAdjust="spacingAndGlyphs">54°00'</text>
<line x1="1219.8" y1="1220.5" x2="1219.8" y2="1229.0" stroke="#222" stroke-width="1.8"/>
<text x="1219.8" y="1249.8" text-anchor="middle" font-family="Liberation Sans, sans-serif" font-size="17" fill="#222" textLength="49.5" lengthAdjust="spacingAndGlyphs">14°00'</text>
<line x1="1311.1" y1="1220.5" x2="1311.1" y2="1229.0" stroke="#222" stroke-width="1.8"/>
<text x="1311.1" y="1249.8" text-anchor="middle" font-family="Liberation Sans, sans-serif" font-size="17" fill="#222" textLength="49.5" lengthAdjust="spacingAndGlyphs">16°00'</text>
<line x1="1402.4" y1="1220.5" x2="1402.4" y2="1229.0" stroke="#222" stroke-width="1.8"/>
<text x="1402.4" y="1249.8" text-anchor="middle" font-family="Liberation Sans, sans-serif" font-size="17" fill="#222" textLength="49.5" lengthAdjust="spacingAndGlyphs">18°00'</text>
<line x1="1493.6" y1="1220.5" x2="1493.6" y2="1229.0" stroke="#222" stroke-width="1.8"/>
<text x="1493.6" y="1249.8" text-anchor="middle" font-family="Liberation Sans, sans-serif" font-size="17" fill="#222" textLength="49.5" lengthAdjust="spacingAndGlyphs">20°00'</text>
<line x1="1584.9" y1="1220.5" x2="1584.9" y2="1229.0" stroke="#222" stroke-width="1.8"/>
<text x="1584.9" y="1249.8" text-anchor="middle" font-family="Liberation Sans, sans-serif" font-size="17" fill="#222" textLength="49.5" lengthAdjust="spacingAndGlyphs">22°00'</text>
<line x1="1676.2" y1="1220.5" x2="1676.2" y2="1229.0" stroke="#222" stroke-width="1.8"/>
<text x="1676.2" y="1249.8" text-anchor="middle" font-family="Liberation Sans, sans-serif" font-size="17" fill="#222" textLength="49.5" lengthAdjust="spacingAndGlyphs">24°00'</text>
<line x1="1767.5" y1="1220.5" x2="1767.5" y2="1229.0" stroke="#222" stroke-width="1.8"/>
<text x="1767.5" y="1249.8" text-anchor="middle" font-family="Liberation Sans, sans-serif" font-size="17" fill="#222" textLength="49.5" lengthAdjust="spacingAndGlyphs">26°00'</text>
<line x1="1858.8" y1="1220.5" x2="1858.8" y2="1229.0" stroke="#222" stroke-width="1.8"/>
<text x="1858.8" y="1249.8" text-anchor="middle" font-family="Liberation Sans, sans-serif" font-size="17" fill="#222" textLength="49.5" lengthAdjust="spacingAndGlyphs">28°00'</text>
<line x1="1950.0" y1="1220.5" x2="1950.0" y2="1229.0" stroke="#222" stroke-width="1.8"/>
<text x="1950.0" y="1249.8" text-anchor="middle" font-family="Liberation Sans, sans-serif" font-size="17" fill="#222" textLength="49.5" lengthAdjust="spacingAndGlyphs">30°00'</text>
<text x="1515.9" y="1285.6" font-family="Liberation Sans, sans-serif" font-size="20.5" fill="#222" textLength="118" lengthAdjust="spacingAndGlyphs">Longitude (°)</text>
<text transform="translate(1120.9,665.7) rotate(-90)" text-anchor="middle" font-family="Liberation Sans, sans-serif" font-size="20.5" fill="#222" textLength="101" lengthAdjust="spacingAndGlyphs">Latitude (°)</text>
<text x="1838.5" y="1166.2" font-family="Liberation Sans, sans-serif" font-size="38" fill="#1e1e1e" textLength="85.5" lengthAdjust="spacingAndGlyphs">2022</text>
<rect x="2227.2" y="121.3" width="814.6000000000004" height="1098.1000000000001" fill="#c1c1c1"/>
<clipPath id="clip2"><rect x="2227.2" y="121.3" width="814.6000000000004" height="1098.1000000000001"/></clipPath>
<g clip-path="url(#clip2)">
<g transform="translate(2119.3,3.5)">
<use href="#sea" fill="#3f2f87"/>
<polygon points="427,632.6 437.9,618.1 456,621.7 459.7,632.6 448.8,645.3 437.9,645.3 430.6,639.8" fill="#c1c1c1"/>
<polygon points="416.2,837.5 408,852.5 399.8,863.4 394.4,874.3 394.4,890.6 391.7,907 380.8,923.3 367.1,934.2 364.4,917.9 364.4,890.6 369.9,877 380.8,860.7 394.4,847 405.3,841.6" fill="#c1c1c1"/>
<polygon points="282.6,960 296.5,960 292,985 287.2,997.2 283,985" fill="#c1c1c1"/>
<polygon points="210.6,1085.4 222.2,1094.7 226.9,1099.4 224.5,1111 212.9,1104 208.3,1099.4" fill="#c1c1c1"/>
<polygon points="143.2,1141.2 150.2,1141.2 147.9,1150.5 159.5,1150.5 161.8,1169.1 152.5,1178.4 143.2,1173.7 133.9,1159.8 138.6,1148.2" fill="#c1c1c1"/>
<polygon points="659.5,191.8 671.5,191.8 671.5,202.8 659.5,202.8" fill="#c1c1c1"/>
<polygon points="844.1,592.1 844.1,618.4 860.2,638.5 884.5,638.5 900.6,642.6 916.7,660.7 910.7,666.8 892.5,668.8 862.3,666.8 842.1,672.9 821.9,683 817.9,693 813.8,707.2 793.6,707.2 763.3,703.1 755.3,697.1" fill="#fff"/>
</g>
<polygon points="2757.3,720 2729,728.7 2726.8,752.7 2737.7,770.1 2729,772.3 2729,787.6 2722.4,789.7 2713.7,802.8 2702.8,815.9 2696.3,824.6 2685.4,833.3 2676.7,846.4 2674.5,861.6 2667.9,872.5 2644,879.1 2633.1,905.2 2600,905 2600,720" fill="#3f2f87"/>
<polygon points="2654.9,811.5 2659.2,794.1 2665.8,789.7 2685.4,783.2 2711.5,778.8 2720.2,785.4 2715.9,794.1 2707.2,802.8 2702.8,813.7 2694.1,818.1 2683.2,822.4 2672.3,824.6 2670.1,833.3 2663.6,822.4 2654.9,815.9" fill="#c1c1c1"/>
<polygon points="2663.6,754.9 2681,746.1 2689.7,741.8 2702.8,752.7 2707.2,763.6 2691.9,772.3 2685.4,776.7 2681,763.6 2672.3,759.2" fill="#c1c1c1"/>
<polygon points="2661.4,833.3 2668,833.3 2668,846.4 2661.4,846.4" fill="#c1c1c1"/>
<polygon points="2468.4,449.2 2482.9,414.4 2506.1,376.6 2541.0,362.1 2564.2,367.9 2567.1,399.8 2581.6,411.5 2590.4,443.4 2596.2,478.3 2599.1,518.9 2590.4,527.6 2564.2,524.7 2558.4,507.3 2549.7,518.9 2529.4,521.8 2520.7,513.1 2541.0,487.0 2546.8,466.6 2506.1,475.4 2500.3,492.8 2485.8,504.4 2471.3,489.9" fill="#3f4a9c"/>
<polygon points="2511.9,379.5 2546.8,370.8 2538.1,391.1 2538.1,426.0 2523.6,428.9 2511.9,414.4" fill="#4a66b0"/>
<polygon points="2555.5,405.7 2570.0,402.8 2584.6,431.8 2593.3,478.3 2593.3,516.0 2567.1,516.0 2564.2,492.8 2558.4,466.6 2552.6,426.0" fill="#4a66b0"/>
<polygon points="2471.3,440.5 2482.9,428.9 2506.1,443.4 2511.9,437.6 2506.1,475.4 2488.7,489.9 2474.2,481.2" fill="#4a66b0"/>
<polygon points="2480.0,426.0 2497.4,417.3 2506.1,426.0 2503.2,440.5 2485.8,443.4" fill="#3f2f87"/>
<polygon points="2506.1,449.2 2517.8,440.5 2541.0,440.5 2546.8,457.9 2541.0,472.5 2506.1,472.5" fill="#2b8fd6"/>
<polygon points="2514.8,455.0 2529.4,446.3 2541.0,452.1 2535.2,466.6 2517.8,469.6" fill="#34b09e"/>
<polygon points="2567.1,437.6 2571.5,437.6 2578.7,466.6 2577.3,489.9 2572.9,489.9 2568.6,466.6" fill="#2b8fd6"/>
<polygon points="2532.3,504.4 2543.9,498.6 2546.8,507.3 2535.2,510.2" fill="#2b8fd6"/>
<polygon points="2526.5,571.2 2546.8,559.6 2570.0,565.4 2558.4,577.0 2535.2,579.9" fill="#3f4a9c"/>
<polygon points="2537.7,663.9 2548.2,649.2 2556.6,649.2 2567.1,659.7 2567.1,670.1 2581.8,672.2 2583.9,680.6 2569.2,682.7 2556.6,678.5 2541.9,668.1" fill="#3f4a9c"/>
<polygon points="2541.9,661.8 2549.3,652.3 2556.6,652.3 2565.0,661.8 2562.9,672.2 2579.7,674.3 2581.8,679.6 2562.9,680.6 2554.5,672.2" fill="#2b8fd6"/>
<polygon points="2546.1,655.5 2554.5,651.3 2562.9,659.7 2565.0,668.1 2558.7,672.2 2550.3,663.9" fill="#57b153"/>
<polygon points="2560.8,674.3 2579.7,674.3 2582.8,680.6 2562.9,682.7" fill="#34b09e"/>
<polygon points="2630.0,703.7 2638.4,703.7 2638.4,711.0 2630.0,711.0" fill="#2b8fd6"/>
<polygon points="2659.3,714.2 2671.9,707.9 2695.0,699.5 2720.1,691.1 2736.9,684.8 2751.6,680.6 2772.5,678.5 2789.3,672.2 2804.0,657.6 2827.0,651.3 2843.8,647.1 2856.4,642.9 2873.2,640.8 2887.8,634.5 2910.9,632.4 2881.6,686.9 2856.4,684.8 2827.0,689.0 2797.7,693.2 2772.5,689.0 2764.2,697.4 2741.1,707.9 2720.1,716.3 2699.2,722.6 2678.2,726.8 2659.3,730.9 2650.9,726.8" fill="#2b8fd6"/>
<polygon points="2663.5,718.4 2688.7,705.8 2720.1,695.3 2751.6,686.9 2772.5,682.7 2789.3,678.5 2804.0,666.0 2827.0,657.6 2856.4,649.2 2887.8,640.8 2908.8,636.6 2883.6,682.7 2856.4,680.6 2827.0,684.8 2797.7,689.0 2772.5,684.8 2762.1,693.2 2741.1,703.7 2709.6,716.3 2678.2,724.7 2663.5,726.8" fill="#adca27"/>
<polygon points="2667.7,720.5 2695.0,705.8 2720.1,697.4 2751.6,689.0 2770.4,684.8 2768.3,695.3 2741.1,707.9 2709.6,720.5 2678.2,726.8 2665.6,726.8" fill="#f2e20c"/>
<polygon points="2797.7,678.5 2827.0,663.9 2856.4,659.7 2869.0,661.8 2873.2,682.7 2856.4,680.6 2827.0,684.8 2801.9,689.0" fill="#f2e20c"/>
<polygon points="2678.2,720.5 2699.2,710.0 2726.4,701.6 2741.1,699.5 2734.8,710.0 2709.6,718.4 2688.7,724.7" fill="#f0922e"/>
<polygon points="2776.7,680.6 2787.2,680.6 2789.3,689.0 2778.8,689.0" fill="#f0922e"/>
<polygon points="2799.8,680.6 2806.1,676.4 2822.9,672.2 2835.4,666.0 2856.4,659.7 2864.8,663.9 2866.9,672.2 2877.4,678.5 2875.3,684.8 2864.8,682.7 2856.4,674.3 2843.8,676.4 2835.4,680.6 2827.0,684.8 2810.3,691.1 2801.9,689.0" fill="#e8562a"/>
<polygon points="2869.0,674.3 2877.4,676.4 2875.3,684.8 2869.0,682.7" fill="#e2352a"/>
<polygon points="2877.4,657.6 2892.0,653.4 2894.1,666.0 2877.4,668.1" fill="#f2e20c"/>
<polygon points="2889.9,640.8 2908.8,638.7 2894.1,663.9 2883.6,663.9 2885.7,651.3" fill="#e2352a"/>
<polygon points="2718.0,705.8 2728.5,705.8 2728.5,710.0 2718.0,711.0" fill="#e2352a"/>
<polygon points="2418.1,1003.6 2426.2,976.3 2434.4,949.1 2446.7,919.1 2453.5,891.9 2450.7,885.9 2434.4,882.4 2433.0,867.4 2437.1,840.2 2446.7,812.9 2453.5,792.5 2465.7,783.0 2487.5,766.6 2506.6,759.8 2520.2,750.3 2539.3,729.9 2557.0,725.8 2573.3,727.1 2595.1,719.0 2616.9,717.6 2635.9,714.9 2657.7,709.4 2660.4,723.1 2652.3,739.4 2635.9,755.7 2625.0,765.3 2611.4,773.4 2614.1,783.0 2630.5,780.3 2630.5,791.1 2614.1,804.8 2600.5,818.4 2616.9,842.9 2606.0,862.0 2600.5,883.7 2597.8,905.5 2589.6,935.5 2581.5,965.4 2570.6,987.2 2565.1,1003.6 2499.8,1003.6 2510.7,973.6 2516.1,946.4 2524.3,919.1 2535.2,894.6 2543.3,872.8 2544.7,856.5 2537.9,834.7 2532.4,812.9 2543.3,799.3 2537.9,787.1 2532.4,784.3 2527.0,792.5 2525.6,821.1 2529.7,847.0 2517.5,851.1 2495.7,867.4 2483.4,882.4 2475.3,911.0 2469.8,943.7 2467.1,965.4 2453.5,992.7 2431.7,1003.6" fill="#2b8fd6"/>
<polygon points="2422.1,1002.2 2430.3,976.3 2438.5,949.1 2449.4,919.1 2456.2,889.2 2452.1,883.7 2437.1,881.0 2435.8,867.4 2439.8,840.2 2449.4,812.9 2456.2,793.9 2467.1,785.7 2488.9,769.4 2507.9,762.6 2521.5,753.0 2540.6,732.6 2557.0,728.5 2573.3,729.9 2595.1,721.7 2616.9,720.3 2635.9,717.6 2656.4,713.5 2657.7,724.4 2649.5,738.0 2633.2,753.0 2622.3,763.9 2608.7,772.1 2608.7,785.7 2600.5,799.3 2597.8,817.0 2614.1,842.9 2603.2,862.0 2597.8,883.7 2595.1,905.5 2586.9,935.5 2578.7,965.4 2567.8,987.2 2562.4,1003.6 2502.5,1003.6 2513.4,973.6 2518.8,946.4 2527.0,919.1 2537.9,894.6 2546.1,872.8 2547.4,856.5 2540.6,834.7 2535.2,812.9 2546.1,799.3 2540.6,785.7 2532.4,781.6 2524.3,791.1 2522.9,821.1 2527.0,845.6 2516.1,848.3 2494.3,864.7 2480.7,881.0 2472.5,911.0 2467.1,943.7 2464.4,965.4 2450.7,989.9 2429.0,1002.2" fill="#f2e20c"/>
<polygon points="2437.1,957.3 2442.6,938.2 2453.5,911.0 2458.9,889.2 2439.8,881.0 2439.8,862.0 2445.3,832.0 2456.2,807.5 2464.4,793.9 2488.9,774.8 2513.4,765.3 2527.0,769.4 2524.3,821.1 2524.3,840.2 2513.4,847.0 2491.6,864.7 2478.0,881.0 2469.8,911.0 2467.1,938.2 2461.6,960.0 2450.7,965.4" fill="#e8562a"/>
<polygon points="2488.9,774.8 2513.4,766.6 2524.3,780.3 2521.5,807.5 2497.0,812.9 2486.1,796.6" fill="#f0922e"/>
<polygon points="2527.0,766.6 2543.3,742.1 2562.4,734.0 2589.6,728.5 2633.2,723.1 2655.0,720.3 2653.6,736.7 2635.9,753.0 2625.0,766.6 2611.4,774.8 2606.0,793.9 2589.6,796.6 2562.4,793.9 2546.1,788.4 2532.4,777.5" fill="#e8562a"/>
<polygon points="2546.1,791.1 2567.8,796.6 2606.0,796.6 2600.5,818.4 2616.9,840.2 2606.0,862.0 2600.5,878.3 2551.5,878.3 2546.1,856.5 2540.6,834.7 2535.2,812.9" fill="#f8b622"/>
<polygon points="2551.5,823.8 2589.6,818.4 2595.1,856.5 2573.3,867.4 2551.5,856.5" fill="#f0922e"/>
<polygon points="2595.1,829.3 2614.1,832.0 2616.9,845.6 2606.0,862.0 2595.1,851.1" fill="#f2e20c"/>
<polygon points="2548.8,821.1 2573.3,818.4 2578.7,840.2 2570.6,851.1 2554.2,848.3" fill="#e8562a"/>
<polygon points="2521.5,943.7 2535.2,919.1 2551.5,905.5 2562.4,891.9 2578.7,872.8 2592.4,886.5 2589.6,921.9 2584.2,949.1 2576.0,973.6 2565.1,992.7 2551.5,1003.6 2529.7,1003.6 2524.3,976.3" fill="#e2352a"/>
<polygon points="2527.0,965.4 2551.5,954.5 2573.3,957.3 2567.8,981.8 2557.0,1003.6 2529.7,1003.6" fill="#e8562a"/>
<polygon points="2524.3,938.2 2537.9,916.4 2554.2,921.9 2565.1,938.2 2578.7,940.9 2573.3,960.0 2557.0,960.0 2546.1,943.7 2532.4,957.3 2525.6,954.5" fill="#a81f36"/>
<polygon points="2557.0,900.1 2578.7,872.8 2592.4,883.7 2589.6,908.2 2578.7,932.8 2565.1,935.5 2557.0,921.9" fill="#8c1b40"/>
<polygon points="2420.8,1000.8 2429.0,976.3 2439.8,962.7 2453.5,965.4 2464.4,973.6 2448.0,992.7" fill="#adca27"/>
<polygon points="2450.7,989.9 2467.1,970.9 2472.5,989.9 2453.5,1000.8" fill="#2b8fd6"/>
<polygon points="2606.0,785.7 2630.5,780.3 2630.5,791.1 2616.9,802.0 2608.7,799.3" fill="#adca27"/>
<polygon points="2493.0,818.4 2506.6,817.0 2507.9,830.6 2494.3,832.0" fill="#f2e20c"/>
<polygon points="2496.2,821.1 2503.8,821.1 2503.8,827.9 2496.2,827.9" fill="#57b153"/>
<polygon points="2550.1,886.5 2557.0,886.5 2557.0,893.3 2550.1,893.3" fill="#57b153"/>
<polygon points="2257.6,1122.0 2269.2,1101.0 2285.5,1094.1 2313.3,1098.7 2315.7,1103.4 2299.4,1122.0 2285.5,1128.9 2262.2,1128.9" fill="#3f4a9c"/>
<polygon points="2420.2,964.0 2466.6,964.0 2471.3,987.2 2448.1,991.9 2415.5,1010.5 2401.6,1024.4 2383.0,1036.0 2378.4,1045.3 2387.7,1052.3 2406.2,1056.9 2415.5,1066.2 2401.6,1063.9 2390.0,1056.9 2376.0,1047.6 2380.7,1033.7 2392.3,1024.4 2410.9,1008.1 2420.2,994.2" fill="#2b8fd6"/>
<polygon points="2422.5,994.2 2431.8,964.0 2462.0,964.0 2448.1,982.6 2438.8,989.6" fill="#adca27"/>
<polygon points="2385.3,1038.3 2397.0,1031.4 2410.9,1038.3 2415.5,1047.6 2401.6,1049.9" fill="#57b153"/>
<polygon points="2320.3,1061.6 2359.8,1033.7 2369.1,1052.3 2401.6,1052.3 2415.5,1061.6 2406.2,1108.0 2378.4,1140.5 2364.4,1149.8 2348.2,1149.8 2329.6,1140.5 2343.5,1126.6 2357.5,1131.2 2355.1,1108.0 2345.9,1089.4 2320.3,1080.1" fill="#3f4a9c"/>
<polygon points="2329.6,1059.2 2355.1,1061.6 2378.4,1056.9 2403.9,1053.4 2407.4,1068.5 2401.6,1103.4 2387.7,1122.0 2373.7,1135.9 2359.8,1135.9 2357.5,1103.4 2348.2,1084.8 2341.2,1070.9 2329.6,1073.2" fill="#adca27"/>
<polygon points="2350.5,1075.5 2369.1,1066.2 2387.7,1063.9 2397.0,1084.8 2397.0,1108.0 2383.0,1117.3 2371.4,1117.3 2362.1,1096.4" fill="#d2da08"/>
<polygon points="2364.4,1080.1 2378.4,1073.2 2390.0,1084.8 2390.0,1101.0 2383.0,1105.7 2369.1,1094.1" fill="#e2352a"/>
<polygon points="2329.6,1138.2 2341.2,1126.6 2350.5,1131.2 2348.2,1147.5 2336.6,1145.2" fill="#2b8fd6"/>
<polygon points="2415.5,1089.4 2431.8,1083.6 2464.3,1082.5 2465.5,1087.1 2452.7,1094.1 2420.2,1096.4" fill="#adca27"/>
<polygon points="2427.2,1031.4 2443.4,1031.4 2436.4,1038.3" fill="#2b8fd6"/>
<polygon points="2480.6,1073.2 2489.9,1010.5 2496.8,1003.0 2568.8,1003.0 2538.7,1022.1 2534.0,1043.0 2573.5,1045.3 2582.8,1056.9 2564.2,1094.1 2550.3,1140.5 2541.0,1156.8 2527.0,1156.8 2517.7,1142.9 2501.5,1108.0 2494.5,1094.1 2471.3,1090.6 2485.2,1075.5" fill="#2b8fd6"/>
<polygon points="2486.4,1061.6 2489.9,1024.4 2499.2,1003.5 2534.0,1010.5 2534.0,1043.0 2573.5,1052.3 2573.5,1061.6 2561.9,1094.1 2550.3,1138.2 2538.7,1152.2 2527.0,1152.2 2520.1,1138.2 2506.1,1110.3 2496.8,1096.4 2487.5,1084.8" fill="#adca27"/>
<polygon points="2492.2,1033.7 2501.5,1005.8 2536.3,1019.7 2531.7,1038.3 2501.5,1073.2 2492.2,1068.5" fill="#f0922e"/>
<polygon points="2515.4,1112.7 2545.6,1070.9 2561.9,1073.2 2552.6,1112.7 2545.6,1140.5 2527.0,1142.9 2517.7,1131.2" fill="#f0922e"/>
<polygon points="2499.2,1003.0 2564.2,1003.0 2543.3,1012.8 2534.0,1019.7 2496.8,1012.8" fill="#f2e20c"/>
<polygon points="2527.0,1003.0 2549.1,1003.0 2531.7,1012.8 2527.0,1012.8" fill="#e8562a"/>
<polygon points="2610.7,1068.5 2620.0,1063.9 2617.6,1087.1 2610.7,1089.4" fill="#ffffff"/>
<polygon points="2722.4,789.7 2726.8,787.6 2733.3,791.9 2737.7,802.8 2739.9,809.3 2752.9,811.5 2759.5,815.9 2768.2,807.2 2776.9,809.3 2774.7,815.9 2770.4,839.9 2768.2,850.7 2768.2,911.8 2759.5,920.5 2750.7,927 2733.3,935.7 2718.1,924.8 2713.7,905.2 2707.2,894.3 2689.7,879.1 2687.6,863.8 2674.5,861.6 2676.7,846.4 2685.4,833.3 2696.3,824.6 2702.8,815.9 2713.7,802.8" fill="#fff"/>
<polygon points="2228.2,942.4 2236.3,955.5 2246.1,965.3 2246.9,980.8 2229.8,981.6 2236.3,991.4 2243.7,998 2236.3,1002.9 2229.8,998 2229.8,1007.8 2238,1017.6 2241.2,1035.5 2228.2,1035.5" fill="#fff"/>
</g>
<rect x="2227.2" y="121.3" width="814.6000000000004" height="1098.1000000000001" fill="none" stroke="#9a9a9a" stroke-width="1.2"/>
<rect x="3068.8" y="148.50" width="13.5" height="10.03" fill="#7a1c44"/>
<rect x="3068.8" y="157.93" width="13.5" height="10.03" fill="#9a1e3c"/>
<rect x="3068.8" y="167.35" width="13.5" height="10.03" fill="#c4202e"/>
<rect x="3068.8" y="176.78" width="13.5" height="10.03" fill="#e42a24"/>
<rect x="3068.8" y="186.20" width="13.5" height="10.03" fill="#e63c28"/>
<rect x="3068.8" y="195.63" width="13.5" height="10.03" fill="#e84a2a"/>
<rect x="3068.8" y="205.05" width="13.5" height="10.03" fill="#e95a2c"/>
<rect x="3068.8" y="214.48" width="13.5" height="10.03" fill="#ed6c32"/>
<rect x="3068.8" y="223.90" width="13.5" height="10.03" fill="#f08034"/>
<rect x="3068.8" y="233.33" width="13.5" height="10.03" fill="#f39a2c"/>
<rect x="3068.8" y="242.76" width="13.5" height="10.03" fill="#f8b41e"/>
<rect x="3068.8" y="252.18" width="13.5" height="10.03" fill="#fcd412"/>
<rect x="3068.8" y="261.61" width="13.5" height="10.03" fill="#fae416"/>
<rect x="3068.8" y="271.03" width="13.5" height="10.03" fill="#e6dc12"/>
<rect x="3068.8" y="280.46" width="13.5" height="10.03" fill="#ccd40e"/>
<rect x="3068.8" y="289.88" width="13.5" height="10.03" fill="#b4cc22"/>
<rect x="3068.8" y="299.31" width="13.5" height="10.03" fill="#9cc02e"/>
<rect x="3068.8" y="308.73" width="13.5" height="10.03" fill="#7cb83e"/>
<rect x="3068.8" y="318.16" width="13.5" height="10.03" fill="#56b050"/>
<rect x="3068.8" y="327.59" width="13.5" height="10.03" fill="#30b0a0"/>
<rect x="3068.8" y="337.01" width="13.5" height="10.03" fill="#2a90d8"/>
<rect x="3068.8" y="346.44" width="13.5" height="10.03" fill="#4262b0"/>
<rect x="3068.8" y="355.86" width="13.5" height="10.03" fill="#3c4898"/>
<rect x="3068.8" y="365.29" width="13.5" height="56.91" fill="#3e2f88"/>
<line x1="3082.3" y1="148.5" x2="3091.3" y2="148.5" stroke="#222" stroke-width="1.8"/>
<text x="3096.3" y="154.3" font-family="Liberation Sans, sans-serif" font-size="16.5" fill="#222">6.0</text>
<line x1="3082.3" y1="194.1" x2="3091.3" y2="194.1" stroke="#222" stroke-width="1.8"/>
<text x="3096.3" y="199.9" font-family="Liberation Sans, sans-serif" font-size="16.5" fill="#222">5.0</text>
<line x1="3082.3" y1="239.7" x2="3091.3" y2="239.7" stroke="#222" stroke-width="1.8"/>
<text x="3096.3" y="245.5" font-family="Liberation Sans, sans-serif" font-size="16.5" fill="#222">4.0</text>
<line x1="3082.3" y1="285.4" x2="3091.3" y2="285.4" stroke="#222" stroke-width="1.8"/>
<text x="3096.3" y="291.2" font-family="Liberation Sans, sans-serif" font-size="16.5" fill="#222">3.0</text>
<line x1="3082.3" y1="331.0" x2="3091.3" y2="331.0" stroke="#222" stroke-width="1.8"/>
<text x="3096.3" y="336.8" font-family="Liberation Sans, sans-serif" font-size="16.5" fill="#222">2.0</text>
<line x1="3082.3" y1="376.6" x2="3091.3" y2="376.6" stroke="#222" stroke-width="1.8"/>
<text x="3096.3" y="382.4" font-family="Liberation Sans, sans-serif" font-size="16.5" fill="#222">1.0</text>
<line x1="3082.3" y1="422.2" x2="3091.3" y2="422.2" stroke="#222" stroke-width="1.8"/>
<text x="3096.3" y="428.0" font-family="Liberation Sans, sans-serif" font-size="16.5" fill="#222">0.0</text>
<text x="3058.7" y="464.2" font-family="Liberation Sans, sans-serif" font-size="20" fill="#222" textLength="59" lengthAdjust="spacingAndGlyphs">µmol/l</text>
<line x1="2218.7" y1="199.4" x2="2227.2" y2="199.4" stroke="#222" stroke-width="1.8"/>
<text transform="translate(2210.7,199.4) rotate(-90)" text-anchor="middle" font-family="Liberation Sans, sans-serif" font-size="17" fill="#222" textLength="48" lengthAdjust="spacingAndGlyphs">65°00'</text>
<line x1="2218.7" y1="290.5" x2="2227.2" y2="290.5" stroke="#222" stroke-width="1.8"/>
<text transform="translate(2210.7,290.5) rotate(-90)" text-anchor="middle" font-family="Liberation Sans, sans-serif" font-size="17" fill="#222" textLength="48" lengthAdjust="spacingAndGlyphs">64°00'</text>
<line x1="2218.7" y1="381.6" x2="2227.2" y2="381.6" stroke="#222" stroke-width="1.8"/>
<text transform="translate(2210.7,381.6) rotate(-90)" text-anchor="middle" font-family="Liberation Sans, sans-serif" font-size="17" fill="#222" textLength="48" lengthAdjust="spacingAndGlyphs">63°00'</text>
<line x1="2218.7" y1="472.6" x2="2227.2" y2="472.6" stroke="#222" stroke-width="1.8"/>
<text transform="translate(2210.7,472.6) rotate(-90)" text-anchor="middle" font-family="Liberation Sans, sans-serif" font-size="17" fill="#222" textLength="48" lengthAdjust="spacingAndGlyphs">62°00'</text>
<line x1="2218.7" y1="563.7" x2="2227.2" y2="563.7" stroke="#222" stroke-width="1.8"/>
<text transform="translate(2210.7,563.7) rotate(-90)" text-anchor="middle" font-family="Liberation Sans, sans-serif" font-size="17" fill="#222" textLength="48" lengthAdjust="spacingAndGlyphs">61°00'</text>
<line x1="2218.7" y1="654.8" x2="2227.2" y2="654.8" stroke="#222" stroke-width="1.8"/>
<text transform="translate(2210.7,654.8) rotate(-90)" text-anchor="middle" font-family="Liberation Sans, sans-serif" font-size="17" fill="#222" textLength="48" lengthAdjust="spacingAndGlyphs">60°00'</text>
<line x1="2218.7" y1="745.9" x2="2227.2" y2="745.9" stroke="#222" stroke-width="1.8"/>
<text transform="translate(2210.7,745.9) rotate(-90)" text-anchor="middle" font-family="Liberation Sans, sans-serif" font-size="17" fill="#222" textLength="48" lengthAdjust="spacingAndGlyphs">59°00'</text>
<line x1="2218.7" y1="837.0" x2="2227.2" y2="837.0" stroke="#222" stroke-width="1.8"/>
<text transform="translate(2210.7,837.0) rotate(-90)" text-anchor="middle" font-family="Liberation Sans, sans-serif" font-size="17" fill="#222" textLength="48" lengthAdjust="spacingAndGlyphs">58°00'</text>
<line x1="2218.7" y1="928.0" x2="2227.2" y2="928.0" stroke="#222" stroke-width="1.8"/>
<text transform="translate(2210.7,928.0) rotate(-90)" text-anchor="middle" font-family="Liberation Sans, sans-serif" font-size="17" fill="#222" textLength="48" lengthAdjust="spacingAndGlyphs">57°00'</text>
<line x1="2218.7" y1="1019.1" x2="2227.2" y2="1019.1" stroke="#222" stroke-width="1.8"/>
<text transform="translate(2210.7,1019.1) rotate(-90)" text-anchor="middle" font-family="Liberation Sans, sans-serif" font-size="17" fill="#222" textLength="48" lengthAdjust="spacingAndGlyphs">56°00'</text>
<line x1="2218.7" y1="1110.2" x2="2227.2" y2="1110.2" stroke="#222" stroke-width="1.8"/>
<text transform="translate(2210.7,1110.2) rotate(-90)" text-anchor="middle" font-family="Liberation Sans, sans-serif" font-size="17" fill="#222" textLength="48" lengthAdjust="spacingAndGlyphs">55°00'</text>
<line x1="2218.7" y1="1201.3" x2="2227.2" y2="1201.3" stroke="#222" stroke-width="1.8"/>
<text transform="translate(2210.7,1201.3) rotate(-90)" text-anchor="middle" font-family="Liberation Sans, sans-serif" font-size="17" fill="#222" textLength="48" lengthAdjust="spacingAndGlyphs">54°00'</text>
<line x1="2295.2" y1="1219.4" x2="2295.2" y2="1227.9" stroke="#222" stroke-width="1.8"/>
<text x="2295.2" y="1248.7" text-anchor="middle" font-family="Liberation Sans, sans-serif" font-size="17" fill="#222" textLength="49.5" lengthAdjust="spacingAndGlyphs">14°00'</text>
<line x1="2386.3" y1="1219.4" x2="2386.3" y2="1227.9" stroke="#222" stroke-width="1.8"/>
<text x="2386.3" y="1248.7" text-anchor="middle" font-family="Liberation Sans, sans-serif" font-size="17" fill="#222" textLength="49.5" lengthAdjust="spacingAndGlyphs">16°00'</text>
<line x1="2477.4" y1="1219.4" x2="2477.4" y2="1227.9" stroke="#222" stroke-width="1.8"/>
<text x="2477.4" y="1248.7" text-anchor="middle" font-family="Liberation Sans, sans-serif" font-size="17" fill="#222" textLength="49.5" lengthAdjust="spacingAndGlyphs">18°00'</text>
<line x1="2568.5" y1="1219.4" x2="2568.5" y2="1227.9" stroke="#222" stroke-width="1.8"/>
<text x="2568.5" y="1248.7" text-anchor="middle" font-family="Liberation Sans, sans-serif" font-size="17" fill="#222" textLength="49.5" lengthAdjust="spacingAndGlyphs">20°00'</text>
<line x1="2659.6" y1="1219.4" x2="2659.6" y2="1227.9" stroke="#222" stroke-width="1.8"/>
<text x="2659.6" y="1248.7" text-anchor="middle" font-family="Liberation Sans, sans-serif" font-size="17" fill="#222" textLength="49.5" lengthAdjust="spacingAndGlyphs">22°00'</text>
<line x1="2750.7" y1="1219.4" x2="2750.7" y2="1227.9" stroke="#222" stroke-width="1.8"/>
<text x="2750.7" y="1248.7" text-anchor="middle" font-family="Liberation Sans, sans-serif" font-size="17" fill="#222" textLength="49.5" lengthAdjust="spacingAndGlyphs">24°00'</text>
<line x1="2841.8" y1="1219.4" x2="2841.8" y2="1227.9" stroke="#222" stroke-width="1.8"/>
<text x="2841.8" y="1248.7" text-anchor="middle" font-family="Liberation Sans, sans-serif" font-size="17" fill="#222" textLength="49.5" lengthAdjust="spacingAndGlyphs">26°00'</text>
<line x1="2932.9" y1="1219.4" x2="2932.9" y2="1227.9" stroke="#222" stroke-width="1.8"/>
<text x="2932.9" y="1248.7" text-anchor="middle" font-family="Liberation Sans, sans-serif" font-size="17" fill="#222" textLength="49.5" lengthAdjust="spacingAndGlyphs">28°00'</text>
<line x1="3024.0" y1="1219.4" x2="3024.0" y2="1227.9" stroke="#222" stroke-width="1.8"/>
<text x="3024.0" y="1248.7" text-anchor="middle" font-family="Liberation Sans, sans-serif" font-size="17" fill="#222" textLength="49.5" lengthAdjust="spacingAndGlyphs">30°00'</text>
<text x="2581.6" y="1284.4" font-family="Liberation Sans, sans-serif" font-size="20.5" fill="#222" textLength="118" lengthAdjust="spacingAndGlyphs">Longitude (°)</text>
<text transform="translate(2177.7,664.4) rotate(-90)" text-anchor="middle" font-family="Liberation Sans, sans-serif" font-size="20.5" fill="#222" textLength="101" lengthAdjust="spacingAndGlyphs">Latitude (°)</text>
<text x="2872.3" y="1173" font-family="Liberation Sans, sans-serif" font-size="52" fill="#1e1e1e" textLength="116.5" lengthAdjust="spacingAndGlyphs">2023</text>
<rect x="571" y="116.4" width="171" height="1.25" fill="#fff"/><rect x="571" y="117.65" width="171" height="0.6" fill="#c1c1c1"/>
</svg>
</body></html>
